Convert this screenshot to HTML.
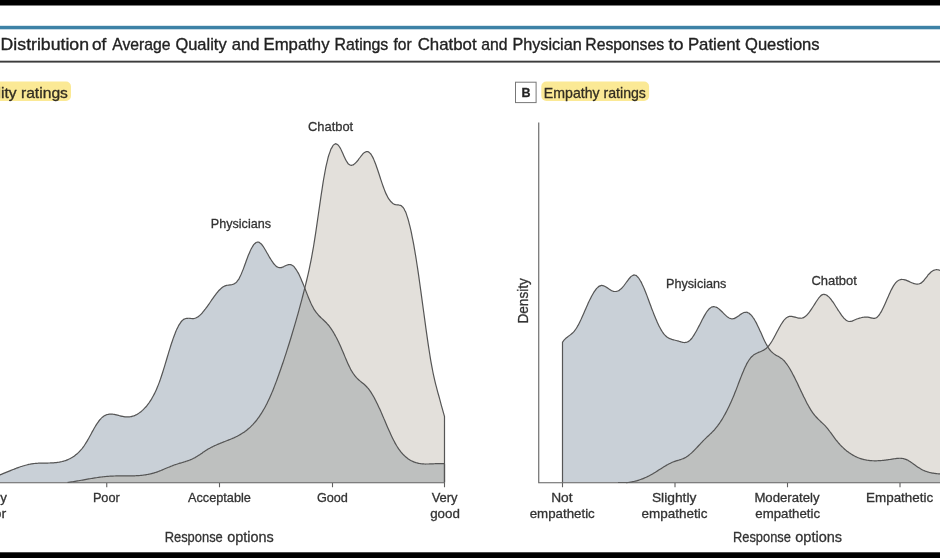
<!DOCTYPE html>
<html lang="en"><head><meta charset="utf-8"><title>Figure</title>
<style>html,body{margin:0;padding:0;background:#fff;overflow:hidden}body{width:940px;height:558px;position:relative}</style></head>
<body>
<svg width="940" height="558" viewBox="0 0 940 558" style="position:absolute;left:0;top:0;display:block;will-change:transform" font-family="'Liberation Sans', Arial, sans-serif" fill="#333">
<defs><clipPath id="cA"><path d="M-12.00 482.50 L-12.00 479.07 C-11.17 478.82 -11.17 478.85 -9.51 478.33 C-7.84 477.80 -8.67 478.07 -7.01 477.50 C-5.35 476.93 -6.18 477.23 -4.52 476.61 C-2.85 476.00 -3.68 476.31 -2.02 475.67 C-0.36 475.03 -1.19 475.35 0.47 474.68 C2.14 474.02 1.30 474.35 2.97 473.67 C4.63 472.99 3.80 473.33 5.46 472.64 C7.12 471.95 6.29 472.29 7.96 471.60 C9.62 470.91 8.79 471.25 10.45 470.57 C12.11 469.89 11.28 470.22 12.95 469.56 C14.61 468.90 13.78 469.22 15.44 468.59 C17.10 467.95 16.27 468.26 17.93 467.66 C19.60 467.05 18.77 467.34 20.43 466.78 C22.09 466.22 21.26 466.49 22.92 465.98 C24.59 465.47 23.76 465.71 25.42 465.26 C27.08 464.81 26.25 465.01 27.91 464.63 C29.58 464.25 28.74 464.42 30.41 464.11 C32.07 463.80 31.24 463.93 32.90 463.71 C34.56 463.48 33.73 463.58 35.40 463.43 C37.06 463.28 36.23 463.34 37.89 463.25 C39.55 463.16 38.72 463.20 40.39 463.15 C42.05 463.09 41.22 463.12 42.88 463.09 C44.54 463.06 43.71 463.08 45.37 463.06 C47.04 463.04 46.21 463.06 47.87 463.03 C49.53 463.00 48.70 463.02 50.36 462.97 C52.03 462.91 51.19 462.95 52.86 462.85 C54.52 462.75 53.69 462.82 55.35 462.66 C57.02 462.50 56.18 462.61 57.85 462.37 C59.51 462.13 58.68 462.28 60.34 461.94 C62.00 461.61 61.17 461.81 62.84 461.36 C64.50 460.91 63.67 461.18 65.33 460.60 C66.99 460.03 66.16 460.36 67.83 459.64 C69.49 458.91 68.66 459.32 70.32 458.44 C71.98 457.56 71.15 458.05 72.81 456.98 C74.48 455.92 73.65 456.52 75.31 455.24 C76.97 453.96 76.14 454.68 77.80 453.14 C79.47 451.59 78.63 452.46 80.30 450.61 C81.96 448.76 81.13 449.79 82.79 447.59 C84.46 445.39 83.62 446.59 85.29 444.02 C86.95 441.45 86.12 442.75 87.78 439.88 C89.44 437.02 88.61 438.42 90.28 435.42 C91.94 432.42 91.11 433.85 92.77 430.88 C94.43 427.91 93.60 429.28 95.27 426.51 C96.93 423.75 96.10 424.97 97.76 422.59 C99.42 420.20 98.59 421.22 100.25 419.35 C101.92 417.49 101.09 418.30 102.75 416.99 C104.41 415.67 103.58 416.24 105.24 415.41 C106.91 414.58 106.07 414.92 107.74 414.50 C109.40 414.08 108.57 414.24 110.23 414.15 C111.90 414.05 111.06 414.07 112.73 414.22 C114.39 414.37 113.56 414.29 115.22 414.60 C116.88 414.92 116.05 414.77 117.72 415.18 C119.38 415.58 118.55 415.41 120.21 415.82 C121.87 416.23 121.04 416.07 122.70 416.41 C124.37 416.74 123.54 416.64 125.20 416.83 C126.86 417.01 126.03 416.98 127.69 416.96 C129.36 416.93 128.53 417.01 130.19 416.75 C131.85 416.49 131.02 416.68 132.68 416.19 C134.35 415.69 133.51 416.01 135.18 415.26 C136.84 414.52 136.01 414.96 137.67 413.96 C139.34 412.96 138.50 413.53 140.17 412.26 C141.83 411.00 141.00 411.70 142.66 410.16 C144.32 408.62 143.49 409.47 145.16 407.64 C146.82 405.82 145.99 406.83 147.65 404.68 C149.31 402.53 148.48 403.72 150.14 401.19 C151.81 398.65 150.98 400.05 152.64 397.06 C154.30 394.07 153.47 395.72 155.13 392.22 C156.80 388.72 155.97 390.64 157.63 386.55 C159.29 382.47 158.46 384.67 160.12 379.98 C161.79 375.28 160.95 377.68 162.62 372.48 C164.28 367.28 163.45 369.85 165.11 364.37 C166.78 358.89 165.94 361.54 167.61 356.04 C169.27 350.54 168.44 353.14 170.10 347.86 C171.76 342.59 170.93 345.02 172.60 340.21 C174.26 335.41 173.43 337.60 175.09 333.44 C176.75 329.29 175.92 331.13 177.58 327.75 C179.25 324.37 178.42 325.79 180.08 323.31 C181.74 320.83 180.91 321.81 182.57 320.30 C184.24 318.78 183.41 319.43 185.07 318.76 C186.73 318.09 185.90 318.42 187.56 318.29 C189.23 318.17 188.39 318.31 190.06 318.39 C191.72 318.47 190.89 318.59 192.55 318.54 C194.21 318.48 193.38 318.72 195.05 318.23 C196.71 317.74 195.88 318.11 197.54 317.07 C199.20 316.04 198.37 316.64 200.04 315.12 C201.70 313.61 200.87 314.42 202.53 312.53 C204.19 310.64 203.36 311.62 205.02 309.46 C206.69 307.30 205.86 308.38 207.52 306.05 C209.18 303.73 208.35 304.87 210.01 302.48 C211.68 300.09 210.85 301.24 212.51 298.89 C214.17 296.54 213.34 297.64 215.00 295.43 C216.67 293.22 215.83 294.23 217.50 292.26 C219.16 290.28 218.33 291.15 219.99 289.51 C221.65 287.88 220.82 288.55 222.49 287.35 C224.15 286.15 223.32 286.62 224.98 285.92 C226.64 285.22 225.81 285.57 227.48 285.25 C229.14 284.92 228.31 285.20 229.97 284.94 C231.63 284.68 230.80 285.01 232.46 284.47 C234.13 283.92 233.30 284.48 234.96 283.30 C236.62 282.12 235.79 283.08 237.45 280.92 C239.12 278.76 238.29 280.10 239.95 276.83 C241.61 273.56 240.78 275.22 242.44 271.11 C244.11 267.00 243.27 268.96 244.94 264.50 C246.60 260.05 245.77 262.05 247.43 257.75 C249.09 253.46 248.26 255.28 249.93 251.62 C251.59 247.96 250.76 249.46 252.42 246.77 C254.08 244.08 253.25 245.08 254.92 243.55 C256.58 242.02 255.75 242.40 257.41 242.19 C259.07 241.97 258.24 241.82 259.90 242.90 C261.57 243.99 260.74 243.35 262.40 245.45 C264.06 247.55 263.23 246.52 264.89 249.21 C266.56 251.90 265.72 250.66 267.39 253.53 C269.05 256.40 268.22 255.09 269.88 257.82 C271.55 260.54 270.71 259.35 272.38 261.70 C274.04 264.04 273.21 263.10 274.87 264.85 C276.53 266.60 275.70 266.00 277.37 266.94 C279.03 267.89 278.20 267.60 279.86 267.69 C281.52 267.77 280.69 267.73 282.36 267.19 C284.02 266.65 283.19 266.81 284.85 266.07 C286.51 265.34 285.68 265.49 287.34 264.97 C289.01 264.46 288.18 264.40 289.84 264.53 C291.50 264.67 290.67 264.31 292.33 265.38 C294.00 266.46 293.16 265.73 294.83 267.77 C296.49 269.80 295.66 268.64 297.32 271.48 C298.99 274.33 298.15 272.80 299.82 276.30 C301.48 279.81 300.65 278.02 302.31 281.99 C303.97 285.97 303.14 284.03 304.81 288.24 C306.47 292.45 305.64 290.46 307.30 294.62 C308.96 298.77 308.13 296.88 309.80 300.70 C311.46 304.51 310.63 302.84 312.29 306.05 C313.95 309.27 313.12 307.79 314.78 310.35 C316.45 312.91 315.62 311.68 317.28 313.72 C318.94 315.76 318.11 314.75 319.77 316.46 C321.44 318.18 320.60 317.28 322.27 318.86 C323.93 320.44 323.10 319.56 324.76 321.21 C326.43 322.85 325.59 321.90 327.26 323.79 C328.92 325.68 328.09 324.63 329.75 326.87 C331.41 329.10 330.58 327.89 332.25 330.49 C333.91 333.08 333.08 331.70 334.74 334.65 C336.40 337.60 335.57 336.04 337.23 339.34 C338.90 342.64 338.07 340.92 339.73 344.55 C341.39 348.17 340.56 346.37 342.22 350.22 C343.89 354.08 343.06 352.22 344.72 356.12 C346.38 360.02 345.55 358.20 347.21 361.92 C348.88 365.65 348.04 363.96 349.71 367.30 C351.37 370.63 350.54 369.17 352.20 371.93 C353.87 374.68 353.03 373.42 354.70 375.56 C356.36 377.71 355.53 376.67 357.19 378.36 C358.85 380.05 358.02 379.19 359.69 380.63 C361.35 382.06 360.52 381.28 362.18 382.67 C363.84 384.06 363.01 383.25 364.67 384.79 C366.34 386.33 365.51 385.41 367.17 387.29 C368.83 389.18 368.00 388.12 369.66 390.44 C371.33 392.77 370.50 391.52 372.16 394.26 C373.82 396.99 372.99 395.55 374.65 398.65 C376.32 401.74 375.48 400.14 377.15 403.54 C378.81 406.94 377.98 405.20 379.64 408.85 C381.31 412.49 380.47 410.66 382.14 414.48 C383.80 418.30 382.97 416.42 384.63 420.31 C386.29 424.19 385.46 422.30 387.13 426.15 C388.79 430.00 387.96 428.15 389.62 431.85 C391.28 435.54 390.45 433.80 392.11 437.24 C393.78 440.67 392.95 439.08 394.61 442.15 C396.27 445.22 395.44 443.79 397.10 446.45 C398.77 449.11 397.94 447.87 399.60 450.13 C401.26 452.39 400.43 451.34 402.09 453.24 C403.76 455.15 402.92 454.26 404.59 455.84 C406.25 457.42 405.42 456.69 407.08 457.98 C408.74 459.27 407.91 458.67 409.58 459.71 C411.24 460.74 410.41 460.27 412.07 461.08 C413.73 461.90 412.90 461.53 414.57 462.14 C416.23 462.76 415.40 462.49 417.06 462.93 C418.72 463.37 417.89 463.18 419.55 463.47 C421.22 463.76 420.39 463.64 422.05 463.81 C423.71 463.98 422.88 463.91 424.54 463.98 C426.21 464.05 425.38 464.02 427.04 464.02 C428.70 464.02 427.87 464.02 429.53 463.97 C431.20 463.91 430.36 463.94 432.03 463.86 C433.69 463.78 432.86 463.81 434.52 463.73 C436.18 463.65 435.35 463.68 437.02 463.62 C438.68 463.57 437.85 463.57 439.51 463.57 C441.17 463.56 440.34 463.53 442.01 463.60 C443.67 463.67 443.67 463.71 444.50 463.76 L444.50 482.50 Z"/></clipPath><clipPath id="cB"><path d="M562.50 482.50 L562.50 342.09 C563.34 341.11 563.34 340.86 565.01 339.16 C566.68 337.46 565.84 338.35 567.51 336.99 C569.18 335.64 568.35 336.43 570.02 335.10 C571.69 333.76 570.86 334.63 572.53 332.98 C574.20 331.33 573.36 332.39 575.03 330.14 C576.70 327.90 575.87 329.14 577.54 326.24 C579.21 323.34 578.37 324.84 580.05 321.44 C581.72 318.04 580.88 319.74 582.55 316.04 C584.22 312.34 583.39 314.14 585.06 310.35 C586.73 306.56 585.89 308.35 587.57 304.67 C589.24 300.98 588.40 302.68 590.07 299.29 C591.74 295.91 590.91 297.43 592.58 294.51 C594.25 291.59 593.41 292.85 595.08 290.54 C596.76 288.23 595.92 289.15 597.59 287.59 C599.26 286.03 598.43 286.54 600.10 285.86 C601.77 285.18 600.93 285.35 602.60 285.54 C604.28 285.73 603.44 285.61 605.11 286.44 C606.78 287.27 605.95 286.92 607.62 288.02 C609.29 289.12 608.45 288.73 610.12 289.74 C611.80 290.74 610.96 290.46 612.63 291.04 C614.30 291.62 613.47 291.50 615.14 291.49 C616.81 291.48 615.97 291.64 617.64 291.00 C619.31 290.36 618.48 290.84 620.15 289.57 C621.82 288.30 620.99 289.05 622.66 287.20 C624.33 285.34 623.49 286.22 625.16 284.00 C626.83 281.79 626.00 282.72 627.67 280.55 C629.34 278.39 628.51 279.18 630.18 277.51 C631.85 275.83 631.01 276.28 632.68 275.53 C634.35 274.78 633.52 274.76 635.19 275.26 C636.86 275.76 636.03 275.27 637.70 277.03 C639.37 278.78 638.53 277.74 640.20 280.52 C641.87 283.31 641.04 281.81 642.71 285.38 C644.38 288.95 643.54 287.12 645.22 291.24 C646.89 295.35 646.05 293.31 647.72 297.72 C649.39 302.14 648.56 300.01 650.23 304.48 C651.90 308.95 651.06 306.82 652.74 311.14 C654.41 315.46 653.57 313.42 655.24 317.44 C656.91 321.46 656.08 319.60 657.75 323.20 C659.42 326.80 658.58 325.19 660.25 328.24 C661.93 331.30 661.09 329.98 662.76 332.38 C664.43 334.78 663.60 333.73 665.27 335.44 C666.94 337.15 666.10 336.37 667.77 337.50 C669.45 338.63 668.61 338.10 670.28 338.82 C671.95 339.53 671.12 339.17 672.79 339.65 C674.46 340.13 673.62 339.84 675.29 340.25 C676.97 340.66 676.13 340.41 677.80 340.89 C679.47 341.36 678.64 341.19 680.31 341.67 C681.98 342.14 681.14 342.05 682.81 342.31 C684.48 342.57 683.65 342.64 685.32 342.45 C686.99 342.26 686.16 342.61 687.83 341.73 C689.50 340.86 688.66 341.49 690.33 339.83 C692.00 338.17 691.17 339.10 692.84 336.76 C694.51 334.43 693.68 335.65 695.35 332.82 C697.02 329.99 696.18 331.41 697.85 328.27 C699.52 325.14 698.69 326.66 700.36 323.42 C702.03 320.19 701.19 321.68 702.87 318.57 C704.54 315.46 703.70 316.82 705.37 314.10 C707.04 311.39 706.21 312.48 707.88 310.42 C709.55 308.35 708.71 309.11 710.39 307.90 C712.06 306.70 711.22 307.12 712.89 306.80 C714.56 306.49 713.73 306.51 715.40 306.97 C717.07 307.42 716.23 307.10 717.91 308.18 C719.58 309.26 718.74 308.71 720.41 310.20 C722.08 311.69 721.25 311.01 722.92 312.66 C724.59 314.30 723.75 313.61 725.42 315.14 C727.10 316.66 726.26 316.10 727.93 317.23 C729.60 318.36 728.77 318.03 730.44 318.53 C732.11 319.03 731.27 318.95 732.94 318.74 C734.62 318.53 733.78 318.69 735.45 317.89 C737.12 317.08 736.29 317.44 737.96 316.33 C739.63 315.21 738.79 315.64 740.46 314.55 C742.14 313.45 741.30 313.79 742.97 313.04 C744.64 312.28 743.81 312.38 745.48 312.29 C747.15 312.19 746.31 312.01 747.98 312.76 C749.65 313.50 748.82 312.95 750.49 314.53 C752.16 316.11 751.33 315.17 753.00 317.49 C754.67 319.81 753.83 318.52 755.50 321.49 C757.17 324.46 756.34 322.94 758.01 326.39 C759.68 329.84 758.85 328.16 760.52 331.84 C762.19 335.51 761.35 333.79 763.02 337.41 C764.69 341.03 763.86 339.41 765.53 342.68 C767.20 345.96 766.36 344.57 768.04 347.23 C769.71 349.90 768.87 348.72 770.54 350.68 C772.21 352.64 771.38 351.71 773.05 353.11 C774.72 354.51 773.88 353.80 775.56 354.88 C777.23 355.97 776.39 355.35 778.06 356.36 C779.73 357.36 778.90 356.73 780.57 357.89 C782.24 359.05 781.40 358.29 783.08 359.84 C784.75 361.39 783.91 360.48 785.58 362.54 C787.25 364.59 786.42 363.48 788.09 366.00 C789.76 368.53 788.92 367.21 790.59 370.11 C792.27 373.01 791.43 371.52 793.10 374.71 C794.77 377.90 793.94 376.29 795.61 379.68 C797.28 383.07 796.44 381.38 798.11 384.88 C799.79 388.38 798.95 386.66 800.62 390.17 C802.29 393.69 801.46 391.98 803.13 395.42 C804.80 398.86 803.96 397.22 805.63 400.49 C807.31 403.77 806.47 402.23 808.14 405.25 C809.81 408.27 808.98 406.88 810.65 409.56 C812.32 412.23 811.48 411.00 813.15 413.28 C814.82 415.55 813.99 414.46 815.66 416.39 C817.33 418.31 816.50 417.36 818.17 419.06 C819.84 420.76 819.00 419.88 820.67 421.50 C822.34 423.11 821.51 422.24 823.18 423.89 C824.85 425.55 824.02 424.63 825.69 426.45 C827.36 428.28 826.52 427.29 828.19 429.37 C829.86 431.45 829.03 430.43 830.70 432.69 C832.37 434.95 831.53 433.89 833.21 436.17 C834.88 438.45 834.04 437.38 835.71 439.53 C837.38 441.67 836.55 440.65 838.22 442.60 C839.89 444.55 839.05 443.62 840.73 445.38 C842.40 447.15 841.56 446.31 843.23 447.89 C844.90 449.47 844.07 448.72 845.74 450.12 C847.41 451.53 846.57 450.86 848.25 452.10 C849.92 453.34 849.08 452.76 850.75 453.84 C852.42 454.93 851.59 454.42 853.26 455.35 C854.93 456.29 854.09 455.85 855.76 456.65 C857.44 457.44 856.60 457.08 858.27 457.74 C859.94 458.41 859.11 458.10 860.78 458.64 C862.45 459.19 861.61 458.94 863.28 459.37 C864.96 459.80 864.12 459.61 865.79 459.93 C867.46 460.25 866.63 460.11 868.30 460.34 C869.97 460.57 869.13 460.47 870.80 460.61 C872.47 460.75 871.64 460.70 873.31 460.76 C874.98 460.81 874.15 460.80 875.82 460.79 C877.49 460.78 876.65 460.79 878.32 460.72 C879.99 460.64 879.16 460.69 880.83 460.56 C882.50 460.43 881.67 460.51 883.34 460.33 C885.01 460.16 884.17 460.25 885.84 460.04 C887.51 459.83 886.68 459.94 888.35 459.70 C890.02 459.46 889.19 459.58 890.86 459.32 C892.53 459.06 891.69 459.18 893.36 458.92 C895.03 458.66 894.20 458.75 895.87 458.55 C897.54 458.34 896.70 458.39 898.38 458.30 C900.05 458.22 899.21 458.18 900.88 458.29 C902.55 458.40 901.72 458.25 903.39 458.62 C905.06 458.99 904.22 458.72 905.90 459.39 C907.57 460.06 906.73 459.69 908.40 460.62 C910.07 461.55 909.24 461.08 910.91 462.18 C912.58 463.29 911.74 462.75 913.42 463.94 C915.09 465.13 914.25 464.57 915.92 465.76 C917.59 466.95 916.76 466.41 918.43 467.50 C920.10 468.60 919.26 468.11 920.93 469.04 C922.61 469.97 921.77 469.54 923.44 470.30 C925.11 471.06 924.28 470.71 925.95 471.32 C927.62 471.92 926.78 471.64 928.45 472.12 C930.13 472.59 929.29 472.37 930.96 472.73 C932.63 473.10 931.80 472.93 933.47 473.20 C935.14 473.48 934.30 473.35 935.97 473.56 C937.64 473.77 936.81 473.67 938.48 473.83 C940.15 474.00 939.32 473.91 940.99 474.06 C942.66 474.21 941.82 474.13 943.49 474.27 C945.16 474.42 945.16 474.43 946.00 474.50 L946.00 482.50 Z"/></clipPath></defs>
<rect x="0" y="0" width="940" height="558" fill="#fff"/>
<rect x="0" y="0" width="940" height="5.5" fill="#000"/>
<rect x="0" y="552.3" width="940" height="6" fill="#000"/>
<rect x="0" y="25.8" width="940" height="3.5" fill="#3d82a6"/>
<rect x="0" y="60.7" width="940" height="1.9" fill="#3c3c3c"/>
<text y="50.40" font-size="17" fill="#222" stroke="#222" stroke-width="0.35"><tspan x="0.62" textLength="88.41" lengthAdjust="spacingAndGlyphs">Distribution</tspan> <tspan x="92.02" textLength="14.36" lengthAdjust="spacingAndGlyphs">of</tspan> <tspan x="112.19" textLength="58.40" lengthAdjust="spacingAndGlyphs">Average</tspan> <tspan x="175.43" textLength="51.20" lengthAdjust="spacingAndGlyphs">Quality</tspan> <tspan x="231.64" textLength="27.78" lengthAdjust="spacingAndGlyphs">and</tspan> <tspan x="263.51" textLength="66.05" lengthAdjust="spacingAndGlyphs">Empathy</tspan> <tspan x="334.49" textLength="53.81" lengthAdjust="spacingAndGlyphs">Ratings</tspan> <tspan x="393.41" textLength="18.16" lengthAdjust="spacingAndGlyphs">for</tspan> <tspan x="417.63" textLength="58.93" lengthAdjust="spacingAndGlyphs">Chatbot</tspan> <tspan x="481.16" textLength="26.24" lengthAdjust="spacingAndGlyphs">and</tspan> <tspan x="512.41" textLength="69.34" lengthAdjust="spacingAndGlyphs">Physician</tspan> <tspan x="585.28" textLength="78.84" lengthAdjust="spacingAndGlyphs">Responses</tspan> <tspan x="668.58" textLength="15.02" lengthAdjust="spacingAndGlyphs">to</tspan> <tspan x="687.89" textLength="52.36" lengthAdjust="spacingAndGlyphs">Patient</tspan> <tspan x="745.00" textLength="74.62" lengthAdjust="spacingAndGlyphs">Questions</tspan></text>
<rect x="-10" y="81.5" width="81" height="19.5" rx="5" fill="#fbe995"/>
<rect x="515.5" y="82.2" width="20.6" height="20.4" fill="#fff" stroke="#777" stroke-width="1"/>
<rect x="541.3" y="81.5" width="107.8" height="19.5" rx="5" fill="#fbe995"/>
<text x="67.90" y="97.50" font-size="14.2" text-anchor="end" textLength="100.00" lengthAdjust="spacingAndGlyphs" fill="#332e22" stroke="#332e22" stroke-width="0.3">Quality ratings</text>
<text x="526.10" y="97.20" font-size="12.5" text-anchor="middle" font-weight="bold" fill="#222" stroke="#333" stroke-width="0.3">B</text>
<path d="M-12.00 482.50 L-12.00 479.07 C-11.17 478.82 -11.17 478.85 -9.51 478.33 C-7.84 477.80 -8.67 478.07 -7.01 477.50 C-5.35 476.93 -6.18 477.23 -4.52 476.61 C-2.85 476.00 -3.68 476.31 -2.02 475.67 C-0.36 475.03 -1.19 475.35 0.47 474.68 C2.14 474.02 1.30 474.35 2.97 473.67 C4.63 472.99 3.80 473.33 5.46 472.64 C7.12 471.95 6.29 472.29 7.96 471.60 C9.62 470.91 8.79 471.25 10.45 470.57 C12.11 469.89 11.28 470.22 12.95 469.56 C14.61 468.90 13.78 469.22 15.44 468.59 C17.10 467.95 16.27 468.26 17.93 467.66 C19.60 467.05 18.77 467.34 20.43 466.78 C22.09 466.22 21.26 466.49 22.92 465.98 C24.59 465.47 23.76 465.71 25.42 465.26 C27.08 464.81 26.25 465.01 27.91 464.63 C29.58 464.25 28.74 464.42 30.41 464.11 C32.07 463.80 31.24 463.93 32.90 463.71 C34.56 463.48 33.73 463.58 35.40 463.43 C37.06 463.28 36.23 463.34 37.89 463.25 C39.55 463.16 38.72 463.20 40.39 463.15 C42.05 463.09 41.22 463.12 42.88 463.09 C44.54 463.06 43.71 463.08 45.37 463.06 C47.04 463.04 46.21 463.06 47.87 463.03 C49.53 463.00 48.70 463.02 50.36 462.97 C52.03 462.91 51.19 462.95 52.86 462.85 C54.52 462.75 53.69 462.82 55.35 462.66 C57.02 462.50 56.18 462.61 57.85 462.37 C59.51 462.13 58.68 462.28 60.34 461.94 C62.00 461.61 61.17 461.81 62.84 461.36 C64.50 460.91 63.67 461.18 65.33 460.60 C66.99 460.03 66.16 460.36 67.83 459.64 C69.49 458.91 68.66 459.32 70.32 458.44 C71.98 457.56 71.15 458.05 72.81 456.98 C74.48 455.92 73.65 456.52 75.31 455.24 C76.97 453.96 76.14 454.68 77.80 453.14 C79.47 451.59 78.63 452.46 80.30 450.61 C81.96 448.76 81.13 449.79 82.79 447.59 C84.46 445.39 83.62 446.59 85.29 444.02 C86.95 441.45 86.12 442.75 87.78 439.88 C89.44 437.02 88.61 438.42 90.28 435.42 C91.94 432.42 91.11 433.85 92.77 430.88 C94.43 427.91 93.60 429.28 95.27 426.51 C96.93 423.75 96.10 424.97 97.76 422.59 C99.42 420.20 98.59 421.22 100.25 419.35 C101.92 417.49 101.09 418.30 102.75 416.99 C104.41 415.67 103.58 416.24 105.24 415.41 C106.91 414.58 106.07 414.92 107.74 414.50 C109.40 414.08 108.57 414.24 110.23 414.15 C111.90 414.05 111.06 414.07 112.73 414.22 C114.39 414.37 113.56 414.29 115.22 414.60 C116.88 414.92 116.05 414.77 117.72 415.18 C119.38 415.58 118.55 415.41 120.21 415.82 C121.87 416.23 121.04 416.07 122.70 416.41 C124.37 416.74 123.54 416.64 125.20 416.83 C126.86 417.01 126.03 416.98 127.69 416.96 C129.36 416.93 128.53 417.01 130.19 416.75 C131.85 416.49 131.02 416.68 132.68 416.19 C134.35 415.69 133.51 416.01 135.18 415.26 C136.84 414.52 136.01 414.96 137.67 413.96 C139.34 412.96 138.50 413.53 140.17 412.26 C141.83 411.00 141.00 411.70 142.66 410.16 C144.32 408.62 143.49 409.47 145.16 407.64 C146.82 405.82 145.99 406.83 147.65 404.68 C149.31 402.53 148.48 403.72 150.14 401.19 C151.81 398.65 150.98 400.05 152.64 397.06 C154.30 394.07 153.47 395.72 155.13 392.22 C156.80 388.72 155.97 390.64 157.63 386.55 C159.29 382.47 158.46 384.67 160.12 379.98 C161.79 375.28 160.95 377.68 162.62 372.48 C164.28 367.28 163.45 369.85 165.11 364.37 C166.78 358.89 165.94 361.54 167.61 356.04 C169.27 350.54 168.44 353.14 170.10 347.86 C171.76 342.59 170.93 345.02 172.60 340.21 C174.26 335.41 173.43 337.60 175.09 333.44 C176.75 329.29 175.92 331.13 177.58 327.75 C179.25 324.37 178.42 325.79 180.08 323.31 C181.74 320.83 180.91 321.81 182.57 320.30 C184.24 318.78 183.41 319.43 185.07 318.76 C186.73 318.09 185.90 318.42 187.56 318.29 C189.23 318.17 188.39 318.31 190.06 318.39 C191.72 318.47 190.89 318.59 192.55 318.54 C194.21 318.48 193.38 318.72 195.05 318.23 C196.71 317.74 195.88 318.11 197.54 317.07 C199.20 316.04 198.37 316.64 200.04 315.12 C201.70 313.61 200.87 314.42 202.53 312.53 C204.19 310.64 203.36 311.62 205.02 309.46 C206.69 307.30 205.86 308.38 207.52 306.05 C209.18 303.73 208.35 304.87 210.01 302.48 C211.68 300.09 210.85 301.24 212.51 298.89 C214.17 296.54 213.34 297.64 215.00 295.43 C216.67 293.22 215.83 294.23 217.50 292.26 C219.16 290.28 218.33 291.15 219.99 289.51 C221.65 287.88 220.82 288.55 222.49 287.35 C224.15 286.15 223.32 286.62 224.98 285.92 C226.64 285.22 225.81 285.57 227.48 285.25 C229.14 284.92 228.31 285.20 229.97 284.94 C231.63 284.68 230.80 285.01 232.46 284.47 C234.13 283.92 233.30 284.48 234.96 283.30 C236.62 282.12 235.79 283.08 237.45 280.92 C239.12 278.76 238.29 280.10 239.95 276.83 C241.61 273.56 240.78 275.22 242.44 271.11 C244.11 267.00 243.27 268.96 244.94 264.50 C246.60 260.05 245.77 262.05 247.43 257.75 C249.09 253.46 248.26 255.28 249.93 251.62 C251.59 247.96 250.76 249.46 252.42 246.77 C254.08 244.08 253.25 245.08 254.92 243.55 C256.58 242.02 255.75 242.40 257.41 242.19 C259.07 241.97 258.24 241.82 259.90 242.90 C261.57 243.99 260.74 243.35 262.40 245.45 C264.06 247.55 263.23 246.52 264.89 249.21 C266.56 251.90 265.72 250.66 267.39 253.53 C269.05 256.40 268.22 255.09 269.88 257.82 C271.55 260.54 270.71 259.35 272.38 261.70 C274.04 264.04 273.21 263.10 274.87 264.85 C276.53 266.60 275.70 266.00 277.37 266.94 C279.03 267.89 278.20 267.60 279.86 267.69 C281.52 267.77 280.69 267.73 282.36 267.19 C284.02 266.65 283.19 266.81 284.85 266.07 C286.51 265.34 285.68 265.49 287.34 264.97 C289.01 264.46 288.18 264.40 289.84 264.53 C291.50 264.67 290.67 264.31 292.33 265.38 C294.00 266.46 293.16 265.73 294.83 267.77 C296.49 269.80 295.66 268.64 297.32 271.48 C298.99 274.33 298.15 272.80 299.82 276.30 C301.48 279.81 300.65 278.02 302.31 281.99 C303.97 285.97 303.14 284.03 304.81 288.24 C306.47 292.45 305.64 290.46 307.30 294.62 C308.96 298.77 308.13 296.88 309.80 300.70 C311.46 304.51 310.63 302.84 312.29 306.05 C313.95 309.27 313.12 307.79 314.78 310.35 C316.45 312.91 315.62 311.68 317.28 313.72 C318.94 315.76 318.11 314.75 319.77 316.46 C321.44 318.18 320.60 317.28 322.27 318.86 C323.93 320.44 323.10 319.56 324.76 321.21 C326.43 322.85 325.59 321.90 327.26 323.79 C328.92 325.68 328.09 324.63 329.75 326.87 C331.41 329.10 330.58 327.89 332.25 330.49 C333.91 333.08 333.08 331.70 334.74 334.65 C336.40 337.60 335.57 336.04 337.23 339.34 C338.90 342.64 338.07 340.92 339.73 344.55 C341.39 348.17 340.56 346.37 342.22 350.22 C343.89 354.08 343.06 352.22 344.72 356.12 C346.38 360.02 345.55 358.20 347.21 361.92 C348.88 365.65 348.04 363.96 349.71 367.30 C351.37 370.63 350.54 369.17 352.20 371.93 C353.87 374.68 353.03 373.42 354.70 375.56 C356.36 377.71 355.53 376.67 357.19 378.36 C358.85 380.05 358.02 379.19 359.69 380.63 C361.35 382.06 360.52 381.28 362.18 382.67 C363.84 384.06 363.01 383.25 364.67 384.79 C366.34 386.33 365.51 385.41 367.17 387.29 C368.83 389.18 368.00 388.12 369.66 390.44 C371.33 392.77 370.50 391.52 372.16 394.26 C373.82 396.99 372.99 395.55 374.65 398.65 C376.32 401.74 375.48 400.14 377.15 403.54 C378.81 406.94 377.98 405.20 379.64 408.85 C381.31 412.49 380.47 410.66 382.14 414.48 C383.80 418.30 382.97 416.42 384.63 420.31 C386.29 424.19 385.46 422.30 387.13 426.15 C388.79 430.00 387.96 428.15 389.62 431.85 C391.28 435.54 390.45 433.80 392.11 437.24 C393.78 440.67 392.95 439.08 394.61 442.15 C396.27 445.22 395.44 443.79 397.10 446.45 C398.77 449.11 397.94 447.87 399.60 450.13 C401.26 452.39 400.43 451.34 402.09 453.24 C403.76 455.15 402.92 454.26 404.59 455.84 C406.25 457.42 405.42 456.69 407.08 457.98 C408.74 459.27 407.91 458.67 409.58 459.71 C411.24 460.74 410.41 460.27 412.07 461.08 C413.73 461.90 412.90 461.53 414.57 462.14 C416.23 462.76 415.40 462.49 417.06 462.93 C418.72 463.37 417.89 463.18 419.55 463.47 C421.22 463.76 420.39 463.64 422.05 463.81 C423.71 463.98 422.88 463.91 424.54 463.98 C426.21 464.05 425.38 464.02 427.04 464.02 C428.70 464.02 427.87 464.02 429.53 463.97 C431.20 463.91 430.36 463.94 432.03 463.86 C433.69 463.78 432.86 463.81 434.52 463.73 C436.18 463.65 435.35 463.68 437.02 463.62 C438.68 463.57 437.85 463.57 439.51 463.57 C441.17 463.56 440.34 463.53 442.01 463.60 C443.67 463.67 443.67 463.71 444.50 463.76 L444.50 482.50 Z" fill="#c9d0d7"/>
<path d="M67.50 482.50 L67.50 482.50 C68.33 482.39 68.33 482.40 70.00 482.16 C71.66 481.92 70.83 482.04 72.49 481.78 C74.16 481.51 73.33 481.65 74.99 481.37 C76.65 481.09 75.82 481.23 77.49 480.94 C79.15 480.65 78.32 480.80 79.98 480.50 C81.65 480.21 80.82 480.36 82.48 480.06 C84.14 479.76 83.31 479.91 84.98 479.61 C86.64 479.32 85.81 479.46 87.47 479.17 C89.14 478.88 88.31 479.02 89.97 478.73 C91.63 478.45 90.80 478.59 92.47 478.31 C94.13 478.04 93.30 478.17 94.96 477.91 C96.63 477.65 95.80 477.77 97.46 477.53 C99.12 477.29 98.29 477.41 99.96 477.18 C101.62 476.96 100.79 477.07 102.45 476.87 C104.12 476.68 103.29 476.76 104.95 476.60 C106.61 476.43 105.78 476.50 107.45 476.37 C109.11 476.23 108.28 476.29 109.94 476.19 C111.61 476.09 110.78 476.13 112.44 476.07 C114.10 476.00 113.27 476.03 114.94 475.99 C116.60 475.95 115.77 475.96 117.43 475.94 C119.10 475.92 118.27 475.93 119.93 475.93 C121.59 475.92 120.76 475.92 122.43 475.92 C124.09 475.92 123.26 475.93 124.92 475.93 C126.59 475.93 125.76 475.93 127.42 475.92 C129.08 475.92 128.25 475.93 129.92 475.91 C131.58 475.89 130.75 475.90 132.41 475.86 C134.08 475.82 133.25 475.85 134.91 475.79 C136.58 475.72 135.74 475.76 137.41 475.66 C139.07 475.56 138.24 475.62 139.90 475.48 C141.57 475.34 140.74 475.43 142.40 475.24 C144.07 475.05 143.23 475.16 144.90 474.92 C146.56 474.68 145.73 474.81 147.39 474.51 C149.06 474.21 148.23 474.38 149.89 474.01 C151.56 473.64 150.72 473.84 152.39 473.40 C154.05 472.95 153.22 473.20 154.88 472.67 C156.55 472.15 155.72 472.42 157.38 471.83 C159.05 471.23 158.21 471.53 159.88 470.88 C161.54 470.23 160.71 470.56 162.37 469.87 C164.04 469.18 163.21 469.52 164.87 468.81 C166.54 468.10 165.70 468.45 167.37 467.74 C169.03 467.04 168.20 467.38 169.86 466.70 C171.53 466.01 170.70 466.34 172.36 465.70 C174.03 465.05 173.19 465.36 174.86 464.77 C176.52 464.19 175.69 464.47 177.35 463.95 C179.02 463.42 178.19 463.69 179.85 463.19 C181.52 462.69 180.68 462.95 182.35 462.46 C184.01 461.96 183.18 462.23 184.84 461.71 C186.51 461.19 185.68 461.47 187.34 460.90 C189.01 460.33 188.17 460.64 189.84 459.99 C191.50 459.33 190.67 459.70 192.33 458.93 C194.00 458.17 193.17 458.59 194.83 457.69 C196.50 456.79 195.66 457.26 197.33 456.24 C198.99 455.22 198.16 455.73 199.82 454.63 C201.49 453.52 200.66 454.06 202.32 452.93 C203.99 451.81 203.15 452.34 204.82 451.24 C206.48 450.14 205.65 450.66 207.31 449.63 C208.98 448.61 208.15 449.09 209.81 448.16 C211.48 447.23 210.64 447.68 212.31 446.84 C213.97 446.00 213.14 446.41 214.80 445.63 C216.47 444.86 215.64 445.24 217.30 444.52 C218.97 443.80 218.13 444.16 219.80 443.48 C221.46 442.80 220.63 443.14 222.29 442.49 C223.96 441.83 223.13 442.16 224.79 441.52 C226.46 440.87 225.62 441.20 227.29 440.54 C228.95 439.89 228.12 440.23 229.78 439.55 C231.45 438.87 230.62 439.22 232.28 438.50 C233.95 437.78 233.11 438.16 234.78 437.38 C236.44 436.61 235.61 437.02 237.27 436.17 C238.94 435.32 238.11 435.77 239.77 434.83 C241.44 433.88 240.60 434.39 242.27 433.33 C243.93 432.27 243.10 432.84 244.76 431.64 C246.43 430.44 245.60 431.09 247.26 429.74 C248.93 428.38 248.09 429.11 249.76 427.58 C251.42 426.05 250.59 426.87 252.25 425.14 C253.92 423.42 253.09 424.34 254.75 422.40 C256.42 420.45 255.58 421.49 257.25 419.31 C258.91 417.12 258.08 418.29 259.75 415.84 C261.41 413.40 260.58 414.70 262.24 411.98 C263.91 409.25 263.07 410.70 264.74 407.68 C266.40 404.65 265.57 406.25 267.24 402.91 C268.90 399.57 268.07 401.33 269.73 397.65 C271.40 393.97 270.56 395.88 272.23 391.87 C273.89 387.86 273.06 389.92 274.73 385.63 C276.39 381.33 275.56 383.52 277.22 378.99 C278.89 374.46 278.05 376.76 279.72 372.03 C281.38 367.30 280.55 369.70 282.22 364.81 C283.88 359.92 283.05 362.40 284.71 357.35 C286.38 352.30 285.54 354.86 287.21 349.65 C288.87 344.44 288.04 347.08 289.71 341.71 C291.37 336.34 290.54 339.07 292.20 333.54 C293.87 328.01 293.03 330.83 294.70 325.13 C296.36 319.43 295.53 322.34 297.20 316.45 C298.86 310.56 298.03 313.57 299.69 307.45 C301.36 301.33 300.52 304.47 302.19 298.09 C303.85 291.72 303.02 295.01 304.69 288.33 C306.35 281.65 305.52 285.22 307.18 278.06 C308.85 270.90 308.01 274.82 309.68 266.84 C311.34 258.86 310.51 263.29 312.18 254.12 C313.84 244.95 313.01 249.82 314.67 239.34 C316.34 228.86 315.50 234.02 317.17 222.68 C318.83 211.34 318.00 216.70 319.67 205.32 C321.33 193.95 320.50 199.12 322.16 188.54 C323.83 177.97 322.99 182.58 324.66 173.60 C326.32 164.63 325.49 168.55 327.16 161.62 C328.82 154.70 327.99 157.67 329.65 152.82 C331.32 147.98 330.48 149.93 332.15 147.09 C333.81 144.25 332.98 145.22 334.65 144.31 C336.31 143.41 335.48 143.43 337.14 144.37 C338.81 145.32 337.97 144.61 339.64 147.15 C341.30 149.70 340.47 148.55 342.14 152.00 C343.80 155.45 342.97 154.11 344.63 157.49 C346.30 160.88 345.46 159.75 347.13 162.15 C348.79 164.56 347.96 163.72 349.63 164.70 C351.29 165.68 350.46 165.40 352.12 165.10 C353.79 164.80 352.95 165.08 354.62 163.80 C356.28 162.51 355.45 163.17 357.12 161.24 C358.78 159.31 357.95 160.14 359.61 158.00 C361.28 155.87 360.44 156.67 362.11 154.84 C363.77 153.00 362.94 153.54 364.61 152.50 C366.27 151.45 365.44 151.59 367.10 151.70 C368.77 151.81 367.93 151.35 369.60 152.83 C371.26 154.30 370.43 153.24 372.10 156.13 C373.76 159.02 372.93 157.45 374.59 161.50 C376.26 165.55 375.42 163.52 377.09 168.29 C378.75 173.05 377.92 170.78 379.59 175.80 C381.25 180.81 380.42 178.53 382.08 183.33 C383.75 188.13 382.92 186.05 384.58 190.20 C386.24 194.34 385.41 192.53 387.08 195.77 C388.74 199.02 387.91 197.60 389.57 199.93 C391.24 202.26 390.41 201.29 392.07 202.76 C393.73 204.24 392.90 203.64 394.57 204.35 C396.23 205.05 395.40 204.59 397.06 204.88 C398.73 205.16 397.90 204.67 399.56 205.21 C401.22 205.76 400.39 204.94 402.06 206.51 C403.72 208.08 402.89 206.73 404.55 209.92 C406.22 213.12 405.39 211.11 407.05 216.09 C408.71 221.08 407.88 218.22 409.55 224.88 C411.21 231.53 410.38 227.88 412.04 236.06 C413.71 244.24 412.88 239.86 414.54 249.42 C416.20 258.97 415.37 253.96 417.04 264.73 C418.70 275.50 417.87 270.04 419.53 281.74 C421.20 293.43 420.37 287.66 422.03 299.81 C423.69 311.96 422.86 306.09 424.53 318.18 C426.19 330.27 425.36 324.56 427.02 336.07 C428.69 347.58 427.86 342.29 429.52 352.72 C431.18 363.14 430.35 358.46 432.02 367.34 C433.68 376.21 432.85 372.00 434.51 379.33 C436.18 386.66 435.35 382.94 437.01 389.32 C438.67 395.69 437.84 392.33 439.51 398.45 C441.17 404.57 440.34 401.67 442.00 407.68 C443.67 413.69 443.67 413.54 444.50 416.47 L444.50 482.50 Z" fill="#e3e0db"/>
<path d="M67.50 482.50 L67.50 482.50 C68.33 482.39 68.33 482.40 70.00 482.16 C71.66 481.92 70.83 482.04 72.49 481.78 C74.16 481.51 73.33 481.65 74.99 481.37 C76.65 481.09 75.82 481.23 77.49 480.94 C79.15 480.65 78.32 480.80 79.98 480.50 C81.65 480.21 80.82 480.36 82.48 480.06 C84.14 479.76 83.31 479.91 84.98 479.61 C86.64 479.32 85.81 479.46 87.47 479.17 C89.14 478.88 88.31 479.02 89.97 478.73 C91.63 478.45 90.80 478.59 92.47 478.31 C94.13 478.04 93.30 478.17 94.96 477.91 C96.63 477.65 95.80 477.77 97.46 477.53 C99.12 477.29 98.29 477.41 99.96 477.18 C101.62 476.96 100.79 477.07 102.45 476.87 C104.12 476.68 103.29 476.76 104.95 476.60 C106.61 476.43 105.78 476.50 107.45 476.37 C109.11 476.23 108.28 476.29 109.94 476.19 C111.61 476.09 110.78 476.13 112.44 476.07 C114.10 476.00 113.27 476.03 114.94 475.99 C116.60 475.95 115.77 475.96 117.43 475.94 C119.10 475.92 118.27 475.93 119.93 475.93 C121.59 475.92 120.76 475.92 122.43 475.92 C124.09 475.92 123.26 475.93 124.92 475.93 C126.59 475.93 125.76 475.93 127.42 475.92 C129.08 475.92 128.25 475.93 129.92 475.91 C131.58 475.89 130.75 475.90 132.41 475.86 C134.08 475.82 133.25 475.85 134.91 475.79 C136.58 475.72 135.74 475.76 137.41 475.66 C139.07 475.56 138.24 475.62 139.90 475.48 C141.57 475.34 140.74 475.43 142.40 475.24 C144.07 475.05 143.23 475.16 144.90 474.92 C146.56 474.68 145.73 474.81 147.39 474.51 C149.06 474.21 148.23 474.38 149.89 474.01 C151.56 473.64 150.72 473.84 152.39 473.40 C154.05 472.95 153.22 473.20 154.88 472.67 C156.55 472.15 155.72 472.42 157.38 471.83 C159.05 471.23 158.21 471.53 159.88 470.88 C161.54 470.23 160.71 470.56 162.37 469.87 C164.04 469.18 163.21 469.52 164.87 468.81 C166.54 468.10 165.70 468.45 167.37 467.74 C169.03 467.04 168.20 467.38 169.86 466.70 C171.53 466.01 170.70 466.34 172.36 465.70 C174.03 465.05 173.19 465.36 174.86 464.77 C176.52 464.19 175.69 464.47 177.35 463.95 C179.02 463.42 178.19 463.69 179.85 463.19 C181.52 462.69 180.68 462.95 182.35 462.46 C184.01 461.96 183.18 462.23 184.84 461.71 C186.51 461.19 185.68 461.47 187.34 460.90 C189.01 460.33 188.17 460.64 189.84 459.99 C191.50 459.33 190.67 459.70 192.33 458.93 C194.00 458.17 193.17 458.59 194.83 457.69 C196.50 456.79 195.66 457.26 197.33 456.24 C198.99 455.22 198.16 455.73 199.82 454.63 C201.49 453.52 200.66 454.06 202.32 452.93 C203.99 451.81 203.15 452.34 204.82 451.24 C206.48 450.14 205.65 450.66 207.31 449.63 C208.98 448.61 208.15 449.09 209.81 448.16 C211.48 447.23 210.64 447.68 212.31 446.84 C213.97 446.00 213.14 446.41 214.80 445.63 C216.47 444.86 215.64 445.24 217.30 444.52 C218.97 443.80 218.13 444.16 219.80 443.48 C221.46 442.80 220.63 443.14 222.29 442.49 C223.96 441.83 223.13 442.16 224.79 441.52 C226.46 440.87 225.62 441.20 227.29 440.54 C228.95 439.89 228.12 440.23 229.78 439.55 C231.45 438.87 230.62 439.22 232.28 438.50 C233.95 437.78 233.11 438.16 234.78 437.38 C236.44 436.61 235.61 437.02 237.27 436.17 C238.94 435.32 238.11 435.77 239.77 434.83 C241.44 433.88 240.60 434.39 242.27 433.33 C243.93 432.27 243.10 432.84 244.76 431.64 C246.43 430.44 245.60 431.09 247.26 429.74 C248.93 428.38 248.09 429.11 249.76 427.58 C251.42 426.05 250.59 426.87 252.25 425.14 C253.92 423.42 253.09 424.34 254.75 422.40 C256.42 420.45 255.58 421.49 257.25 419.31 C258.91 417.12 258.08 418.29 259.75 415.84 C261.41 413.40 260.58 414.70 262.24 411.98 C263.91 409.25 263.07 410.70 264.74 407.68 C266.40 404.65 265.57 406.25 267.24 402.91 C268.90 399.57 268.07 401.33 269.73 397.65 C271.40 393.97 270.56 395.88 272.23 391.87 C273.89 387.86 273.06 389.92 274.73 385.63 C276.39 381.33 275.56 383.52 277.22 378.99 C278.89 374.46 278.05 376.76 279.72 372.03 C281.38 367.30 280.55 369.70 282.22 364.81 C283.88 359.92 283.05 362.40 284.71 357.35 C286.38 352.30 285.54 354.86 287.21 349.65 C288.87 344.44 288.04 347.08 289.71 341.71 C291.37 336.34 290.54 339.07 292.20 333.54 C293.87 328.01 293.03 330.83 294.70 325.13 C296.36 319.43 295.53 322.34 297.20 316.45 C298.86 310.56 298.03 313.57 299.69 307.45 C301.36 301.33 300.52 304.47 302.19 298.09 C303.85 291.72 303.02 295.01 304.69 288.33 C306.35 281.65 305.52 285.22 307.18 278.06 C308.85 270.90 308.01 274.82 309.68 266.84 C311.34 258.86 310.51 263.29 312.18 254.12 C313.84 244.95 313.01 249.82 314.67 239.34 C316.34 228.86 315.50 234.02 317.17 222.68 C318.83 211.34 318.00 216.70 319.67 205.32 C321.33 193.95 320.50 199.12 322.16 188.54 C323.83 177.97 322.99 182.58 324.66 173.60 C326.32 164.63 325.49 168.55 327.16 161.62 C328.82 154.70 327.99 157.67 329.65 152.82 C331.32 147.98 330.48 149.93 332.15 147.09 C333.81 144.25 332.98 145.22 334.65 144.31 C336.31 143.41 335.48 143.43 337.14 144.37 C338.81 145.32 337.97 144.61 339.64 147.15 C341.30 149.70 340.47 148.55 342.14 152.00 C343.80 155.45 342.97 154.11 344.63 157.49 C346.30 160.88 345.46 159.75 347.13 162.15 C348.79 164.56 347.96 163.72 349.63 164.70 C351.29 165.68 350.46 165.40 352.12 165.10 C353.79 164.80 352.95 165.08 354.62 163.80 C356.28 162.51 355.45 163.17 357.12 161.24 C358.78 159.31 357.95 160.14 359.61 158.00 C361.28 155.87 360.44 156.67 362.11 154.84 C363.77 153.00 362.94 153.54 364.61 152.50 C366.27 151.45 365.44 151.59 367.10 151.70 C368.77 151.81 367.93 151.35 369.60 152.83 C371.26 154.30 370.43 153.24 372.10 156.13 C373.76 159.02 372.93 157.45 374.59 161.50 C376.26 165.55 375.42 163.52 377.09 168.29 C378.75 173.05 377.92 170.78 379.59 175.80 C381.25 180.81 380.42 178.53 382.08 183.33 C383.75 188.13 382.92 186.05 384.58 190.20 C386.24 194.34 385.41 192.53 387.08 195.77 C388.74 199.02 387.91 197.60 389.57 199.93 C391.24 202.26 390.41 201.29 392.07 202.76 C393.73 204.24 392.90 203.64 394.57 204.35 C396.23 205.05 395.40 204.59 397.06 204.88 C398.73 205.16 397.90 204.67 399.56 205.21 C401.22 205.76 400.39 204.94 402.06 206.51 C403.72 208.08 402.89 206.73 404.55 209.92 C406.22 213.12 405.39 211.11 407.05 216.09 C408.71 221.08 407.88 218.22 409.55 224.88 C411.21 231.53 410.38 227.88 412.04 236.06 C413.71 244.24 412.88 239.86 414.54 249.42 C416.20 258.97 415.37 253.96 417.04 264.73 C418.70 275.50 417.87 270.04 419.53 281.74 C421.20 293.43 420.37 287.66 422.03 299.81 C423.69 311.96 422.86 306.09 424.53 318.18 C426.19 330.27 425.36 324.56 427.02 336.07 C428.69 347.58 427.86 342.29 429.52 352.72 C431.18 363.14 430.35 358.46 432.02 367.34 C433.68 376.21 432.85 372.00 434.51 379.33 C436.18 386.66 435.35 382.94 437.01 389.32 C438.67 395.69 437.84 392.33 439.51 398.45 C441.17 404.57 440.34 401.67 442.00 407.68 C443.67 413.69 443.67 413.54 444.50 416.47 L444.50 482.50 Z" fill="#bec0bf" clip-path="url(#cA)"/>
<path d="M-12.00 479.07 C-11.17 478.82 -11.17 478.85 -9.51 478.33 C-7.84 477.80 -8.67 478.07 -7.01 477.50 C-5.35 476.93 -6.18 477.23 -4.52 476.61 C-2.85 476.00 -3.68 476.31 -2.02 475.67 C-0.36 475.03 -1.19 475.35 0.47 474.68 C2.14 474.02 1.30 474.35 2.97 473.67 C4.63 472.99 3.80 473.33 5.46 472.64 C7.12 471.95 6.29 472.29 7.96 471.60 C9.62 470.91 8.79 471.25 10.45 470.57 C12.11 469.89 11.28 470.22 12.95 469.56 C14.61 468.90 13.78 469.22 15.44 468.59 C17.10 467.95 16.27 468.26 17.93 467.66 C19.60 467.05 18.77 467.34 20.43 466.78 C22.09 466.22 21.26 466.49 22.92 465.98 C24.59 465.47 23.76 465.71 25.42 465.26 C27.08 464.81 26.25 465.01 27.91 464.63 C29.58 464.25 28.74 464.42 30.41 464.11 C32.07 463.80 31.24 463.93 32.90 463.71 C34.56 463.48 33.73 463.58 35.40 463.43 C37.06 463.28 36.23 463.34 37.89 463.25 C39.55 463.16 38.72 463.20 40.39 463.15 C42.05 463.09 41.22 463.12 42.88 463.09 C44.54 463.06 43.71 463.08 45.37 463.06 C47.04 463.04 46.21 463.06 47.87 463.03 C49.53 463.00 48.70 463.02 50.36 462.97 C52.03 462.91 51.19 462.95 52.86 462.85 C54.52 462.75 53.69 462.82 55.35 462.66 C57.02 462.50 56.18 462.61 57.85 462.37 C59.51 462.13 58.68 462.28 60.34 461.94 C62.00 461.61 61.17 461.81 62.84 461.36 C64.50 460.91 63.67 461.18 65.33 460.60 C66.99 460.03 66.16 460.36 67.83 459.64 C69.49 458.91 68.66 459.32 70.32 458.44 C71.98 457.56 71.15 458.05 72.81 456.98 C74.48 455.92 73.65 456.52 75.31 455.24 C76.97 453.96 76.14 454.68 77.80 453.14 C79.47 451.59 78.63 452.46 80.30 450.61 C81.96 448.76 81.13 449.79 82.79 447.59 C84.46 445.39 83.62 446.59 85.29 444.02 C86.95 441.45 86.12 442.75 87.78 439.88 C89.44 437.02 88.61 438.42 90.28 435.42 C91.94 432.42 91.11 433.85 92.77 430.88 C94.43 427.91 93.60 429.28 95.27 426.51 C96.93 423.75 96.10 424.97 97.76 422.59 C99.42 420.20 98.59 421.22 100.25 419.35 C101.92 417.49 101.09 418.30 102.75 416.99 C104.41 415.67 103.58 416.24 105.24 415.41 C106.91 414.58 106.07 414.92 107.74 414.50 C109.40 414.08 108.57 414.24 110.23 414.15 C111.90 414.05 111.06 414.07 112.73 414.22 C114.39 414.37 113.56 414.29 115.22 414.60 C116.88 414.92 116.05 414.77 117.72 415.18 C119.38 415.58 118.55 415.41 120.21 415.82 C121.87 416.23 121.04 416.07 122.70 416.41 C124.37 416.74 123.54 416.64 125.20 416.83 C126.86 417.01 126.03 416.98 127.69 416.96 C129.36 416.93 128.53 417.01 130.19 416.75 C131.85 416.49 131.02 416.68 132.68 416.19 C134.35 415.69 133.51 416.01 135.18 415.26 C136.84 414.52 136.01 414.96 137.67 413.96 C139.34 412.96 138.50 413.53 140.17 412.26 C141.83 411.00 141.00 411.70 142.66 410.16 C144.32 408.62 143.49 409.47 145.16 407.64 C146.82 405.82 145.99 406.83 147.65 404.68 C149.31 402.53 148.48 403.72 150.14 401.19 C151.81 398.65 150.98 400.05 152.64 397.06 C154.30 394.07 153.47 395.72 155.13 392.22 C156.80 388.72 155.97 390.64 157.63 386.55 C159.29 382.47 158.46 384.67 160.12 379.98 C161.79 375.28 160.95 377.68 162.62 372.48 C164.28 367.28 163.45 369.85 165.11 364.37 C166.78 358.89 165.94 361.54 167.61 356.04 C169.27 350.54 168.44 353.14 170.10 347.86 C171.76 342.59 170.93 345.02 172.60 340.21 C174.26 335.41 173.43 337.60 175.09 333.44 C176.75 329.29 175.92 331.13 177.58 327.75 C179.25 324.37 178.42 325.79 180.08 323.31 C181.74 320.83 180.91 321.81 182.57 320.30 C184.24 318.78 183.41 319.43 185.07 318.76 C186.73 318.09 185.90 318.42 187.56 318.29 C189.23 318.17 188.39 318.31 190.06 318.39 C191.72 318.47 190.89 318.59 192.55 318.54 C194.21 318.48 193.38 318.72 195.05 318.23 C196.71 317.74 195.88 318.11 197.54 317.07 C199.20 316.04 198.37 316.64 200.04 315.12 C201.70 313.61 200.87 314.42 202.53 312.53 C204.19 310.64 203.36 311.62 205.02 309.46 C206.69 307.30 205.86 308.38 207.52 306.05 C209.18 303.73 208.35 304.87 210.01 302.48 C211.68 300.09 210.85 301.24 212.51 298.89 C214.17 296.54 213.34 297.64 215.00 295.43 C216.67 293.22 215.83 294.23 217.50 292.26 C219.16 290.28 218.33 291.15 219.99 289.51 C221.65 287.88 220.82 288.55 222.49 287.35 C224.15 286.15 223.32 286.62 224.98 285.92 C226.64 285.22 225.81 285.57 227.48 285.25 C229.14 284.92 228.31 285.20 229.97 284.94 C231.63 284.68 230.80 285.01 232.46 284.47 C234.13 283.92 233.30 284.48 234.96 283.30 C236.62 282.12 235.79 283.08 237.45 280.92 C239.12 278.76 238.29 280.10 239.95 276.83 C241.61 273.56 240.78 275.22 242.44 271.11 C244.11 267.00 243.27 268.96 244.94 264.50 C246.60 260.05 245.77 262.05 247.43 257.75 C249.09 253.46 248.26 255.28 249.93 251.62 C251.59 247.96 250.76 249.46 252.42 246.77 C254.08 244.08 253.25 245.08 254.92 243.55 C256.58 242.02 255.75 242.40 257.41 242.19 C259.07 241.97 258.24 241.82 259.90 242.90 C261.57 243.99 260.74 243.35 262.40 245.45 C264.06 247.55 263.23 246.52 264.89 249.21 C266.56 251.90 265.72 250.66 267.39 253.53 C269.05 256.40 268.22 255.09 269.88 257.82 C271.55 260.54 270.71 259.35 272.38 261.70 C274.04 264.04 273.21 263.10 274.87 264.85 C276.53 266.60 275.70 266.00 277.37 266.94 C279.03 267.89 278.20 267.60 279.86 267.69 C281.52 267.77 280.69 267.73 282.36 267.19 C284.02 266.65 283.19 266.81 284.85 266.07 C286.51 265.34 285.68 265.49 287.34 264.97 C289.01 264.46 288.18 264.40 289.84 264.53 C291.50 264.67 290.67 264.31 292.33 265.38 C294.00 266.46 293.16 265.73 294.83 267.77 C296.49 269.80 295.66 268.64 297.32 271.48 C298.99 274.33 298.15 272.80 299.82 276.30 C301.48 279.81 300.65 278.02 302.31 281.99 C303.97 285.97 303.14 284.03 304.81 288.24 C306.47 292.45 305.64 290.46 307.30 294.62 C308.96 298.77 308.13 296.88 309.80 300.70 C311.46 304.51 310.63 302.84 312.29 306.05 C313.95 309.27 313.12 307.79 314.78 310.35 C316.45 312.91 315.62 311.68 317.28 313.72 C318.94 315.76 318.11 314.75 319.77 316.46 C321.44 318.18 320.60 317.28 322.27 318.86 C323.93 320.44 323.10 319.56 324.76 321.21 C326.43 322.85 325.59 321.90 327.26 323.79 C328.92 325.68 328.09 324.63 329.75 326.87 C331.41 329.10 330.58 327.89 332.25 330.49 C333.91 333.08 333.08 331.70 334.74 334.65 C336.40 337.60 335.57 336.04 337.23 339.34 C338.90 342.64 338.07 340.92 339.73 344.55 C341.39 348.17 340.56 346.37 342.22 350.22 C343.89 354.08 343.06 352.22 344.72 356.12 C346.38 360.02 345.55 358.20 347.21 361.92 C348.88 365.65 348.04 363.96 349.71 367.30 C351.37 370.63 350.54 369.17 352.20 371.93 C353.87 374.68 353.03 373.42 354.70 375.56 C356.36 377.71 355.53 376.67 357.19 378.36 C358.85 380.05 358.02 379.19 359.69 380.63 C361.35 382.06 360.52 381.28 362.18 382.67 C363.84 384.06 363.01 383.25 364.67 384.79 C366.34 386.33 365.51 385.41 367.17 387.29 C368.83 389.18 368.00 388.12 369.66 390.44 C371.33 392.77 370.50 391.52 372.16 394.26 C373.82 396.99 372.99 395.55 374.65 398.65 C376.32 401.74 375.48 400.14 377.15 403.54 C378.81 406.94 377.98 405.20 379.64 408.85 C381.31 412.49 380.47 410.66 382.14 414.48 C383.80 418.30 382.97 416.42 384.63 420.31 C386.29 424.19 385.46 422.30 387.13 426.15 C388.79 430.00 387.96 428.15 389.62 431.85 C391.28 435.54 390.45 433.80 392.11 437.24 C393.78 440.67 392.95 439.08 394.61 442.15 C396.27 445.22 395.44 443.79 397.10 446.45 C398.77 449.11 397.94 447.87 399.60 450.13 C401.26 452.39 400.43 451.34 402.09 453.24 C403.76 455.15 402.92 454.26 404.59 455.84 C406.25 457.42 405.42 456.69 407.08 457.98 C408.74 459.27 407.91 458.67 409.58 459.71 C411.24 460.74 410.41 460.27 412.07 461.08 C413.73 461.90 412.90 461.53 414.57 462.14 C416.23 462.76 415.40 462.49 417.06 462.93 C418.72 463.37 417.89 463.18 419.55 463.47 C421.22 463.76 420.39 463.64 422.05 463.81 C423.71 463.98 422.88 463.91 424.54 463.98 C426.21 464.05 425.38 464.02 427.04 464.02 C428.70 464.02 427.87 464.02 429.53 463.97 C431.20 463.91 430.36 463.94 432.03 463.86 C433.69 463.78 432.86 463.81 434.52 463.73 C436.18 463.65 435.35 463.68 437.02 463.62 C438.68 463.57 437.85 463.57 439.51 463.57 C441.17 463.56 440.34 463.53 442.01 463.60 C443.67 463.67 443.67 463.71 444.50 463.76 L444.50 482.50" fill="none" stroke="#555" stroke-width="1.2" stroke-linejoin="round"/>
<path d="M67.50 482.50 C68.33 482.39 68.33 482.40 70.00 482.16 C71.66 481.92 70.83 482.04 72.49 481.78 C74.16 481.51 73.33 481.65 74.99 481.37 C76.65 481.09 75.82 481.23 77.49 480.94 C79.15 480.65 78.32 480.80 79.98 480.50 C81.65 480.21 80.82 480.36 82.48 480.06 C84.14 479.76 83.31 479.91 84.98 479.61 C86.64 479.32 85.81 479.46 87.47 479.17 C89.14 478.88 88.31 479.02 89.97 478.73 C91.63 478.45 90.80 478.59 92.47 478.31 C94.13 478.04 93.30 478.17 94.96 477.91 C96.63 477.65 95.80 477.77 97.46 477.53 C99.12 477.29 98.29 477.41 99.96 477.18 C101.62 476.96 100.79 477.07 102.45 476.87 C104.12 476.68 103.29 476.76 104.95 476.60 C106.61 476.43 105.78 476.50 107.45 476.37 C109.11 476.23 108.28 476.29 109.94 476.19 C111.61 476.09 110.78 476.13 112.44 476.07 C114.10 476.00 113.27 476.03 114.94 475.99 C116.60 475.95 115.77 475.96 117.43 475.94 C119.10 475.92 118.27 475.93 119.93 475.93 C121.59 475.92 120.76 475.92 122.43 475.92 C124.09 475.92 123.26 475.93 124.92 475.93 C126.59 475.93 125.76 475.93 127.42 475.92 C129.08 475.92 128.25 475.93 129.92 475.91 C131.58 475.89 130.75 475.90 132.41 475.86 C134.08 475.82 133.25 475.85 134.91 475.79 C136.58 475.72 135.74 475.76 137.41 475.66 C139.07 475.56 138.24 475.62 139.90 475.48 C141.57 475.34 140.74 475.43 142.40 475.24 C144.07 475.05 143.23 475.16 144.90 474.92 C146.56 474.68 145.73 474.81 147.39 474.51 C149.06 474.21 148.23 474.38 149.89 474.01 C151.56 473.64 150.72 473.84 152.39 473.40 C154.05 472.95 153.22 473.20 154.88 472.67 C156.55 472.15 155.72 472.42 157.38 471.83 C159.05 471.23 158.21 471.53 159.88 470.88 C161.54 470.23 160.71 470.56 162.37 469.87 C164.04 469.18 163.21 469.52 164.87 468.81 C166.54 468.10 165.70 468.45 167.37 467.74 C169.03 467.04 168.20 467.38 169.86 466.70 C171.53 466.01 170.70 466.34 172.36 465.70 C174.03 465.05 173.19 465.36 174.86 464.77 C176.52 464.19 175.69 464.47 177.35 463.95 C179.02 463.42 178.19 463.69 179.85 463.19 C181.52 462.69 180.68 462.95 182.35 462.46 C184.01 461.96 183.18 462.23 184.84 461.71 C186.51 461.19 185.68 461.47 187.34 460.90 C189.01 460.33 188.17 460.64 189.84 459.99 C191.50 459.33 190.67 459.70 192.33 458.93 C194.00 458.17 193.17 458.59 194.83 457.69 C196.50 456.79 195.66 457.26 197.33 456.24 C198.99 455.22 198.16 455.73 199.82 454.63 C201.49 453.52 200.66 454.06 202.32 452.93 C203.99 451.81 203.15 452.34 204.82 451.24 C206.48 450.14 205.65 450.66 207.31 449.63 C208.98 448.61 208.15 449.09 209.81 448.16 C211.48 447.23 210.64 447.68 212.31 446.84 C213.97 446.00 213.14 446.41 214.80 445.63 C216.47 444.86 215.64 445.24 217.30 444.52 C218.97 443.80 218.13 444.16 219.80 443.48 C221.46 442.80 220.63 443.14 222.29 442.49 C223.96 441.83 223.13 442.16 224.79 441.52 C226.46 440.87 225.62 441.20 227.29 440.54 C228.95 439.89 228.12 440.23 229.78 439.55 C231.45 438.87 230.62 439.22 232.28 438.50 C233.95 437.78 233.11 438.16 234.78 437.38 C236.44 436.61 235.61 437.02 237.27 436.17 C238.94 435.32 238.11 435.77 239.77 434.83 C241.44 433.88 240.60 434.39 242.27 433.33 C243.93 432.27 243.10 432.84 244.76 431.64 C246.43 430.44 245.60 431.09 247.26 429.74 C248.93 428.38 248.09 429.11 249.76 427.58 C251.42 426.05 250.59 426.87 252.25 425.14 C253.92 423.42 253.09 424.34 254.75 422.40 C256.42 420.45 255.58 421.49 257.25 419.31 C258.91 417.12 258.08 418.29 259.75 415.84 C261.41 413.40 260.58 414.70 262.24 411.98 C263.91 409.25 263.07 410.70 264.74 407.68 C266.40 404.65 265.57 406.25 267.24 402.91 C268.90 399.57 268.07 401.33 269.73 397.65 C271.40 393.97 270.56 395.88 272.23 391.87 C273.89 387.86 273.06 389.92 274.73 385.63 C276.39 381.33 275.56 383.52 277.22 378.99 C278.89 374.46 278.05 376.76 279.72 372.03 C281.38 367.30 280.55 369.70 282.22 364.81 C283.88 359.92 283.05 362.40 284.71 357.35 C286.38 352.30 285.54 354.86 287.21 349.65 C288.87 344.44 288.04 347.08 289.71 341.71 C291.37 336.34 290.54 339.07 292.20 333.54 C293.87 328.01 293.03 330.83 294.70 325.13 C296.36 319.43 295.53 322.34 297.20 316.45 C298.86 310.56 298.03 313.57 299.69 307.45 C301.36 301.33 300.52 304.47 302.19 298.09 C303.85 291.72 303.02 295.01 304.69 288.33 C306.35 281.65 305.52 285.22 307.18 278.06 C308.85 270.90 308.01 274.82 309.68 266.84 C311.34 258.86 310.51 263.29 312.18 254.12 C313.84 244.95 313.01 249.82 314.67 239.34 C316.34 228.86 315.50 234.02 317.17 222.68 C318.83 211.34 318.00 216.70 319.67 205.32 C321.33 193.95 320.50 199.12 322.16 188.54 C323.83 177.97 322.99 182.58 324.66 173.60 C326.32 164.63 325.49 168.55 327.16 161.62 C328.82 154.70 327.99 157.67 329.65 152.82 C331.32 147.98 330.48 149.93 332.15 147.09 C333.81 144.25 332.98 145.22 334.65 144.31 C336.31 143.41 335.48 143.43 337.14 144.37 C338.81 145.32 337.97 144.61 339.64 147.15 C341.30 149.70 340.47 148.55 342.14 152.00 C343.80 155.45 342.97 154.11 344.63 157.49 C346.30 160.88 345.46 159.75 347.13 162.15 C348.79 164.56 347.96 163.72 349.63 164.70 C351.29 165.68 350.46 165.40 352.12 165.10 C353.79 164.80 352.95 165.08 354.62 163.80 C356.28 162.51 355.45 163.17 357.12 161.24 C358.78 159.31 357.95 160.14 359.61 158.00 C361.28 155.87 360.44 156.67 362.11 154.84 C363.77 153.00 362.94 153.54 364.61 152.50 C366.27 151.45 365.44 151.59 367.10 151.70 C368.77 151.81 367.93 151.35 369.60 152.83 C371.26 154.30 370.43 153.24 372.10 156.13 C373.76 159.02 372.93 157.45 374.59 161.50 C376.26 165.55 375.42 163.52 377.09 168.29 C378.75 173.05 377.92 170.78 379.59 175.80 C381.25 180.81 380.42 178.53 382.08 183.33 C383.75 188.13 382.92 186.05 384.58 190.20 C386.24 194.34 385.41 192.53 387.08 195.77 C388.74 199.02 387.91 197.60 389.57 199.93 C391.24 202.26 390.41 201.29 392.07 202.76 C393.73 204.24 392.90 203.64 394.57 204.35 C396.23 205.05 395.40 204.59 397.06 204.88 C398.73 205.16 397.90 204.67 399.56 205.21 C401.22 205.76 400.39 204.94 402.06 206.51 C403.72 208.08 402.89 206.73 404.55 209.92 C406.22 213.12 405.39 211.11 407.05 216.09 C408.71 221.08 407.88 218.22 409.55 224.88 C411.21 231.53 410.38 227.88 412.04 236.06 C413.71 244.24 412.88 239.86 414.54 249.42 C416.20 258.97 415.37 253.96 417.04 264.73 C418.70 275.50 417.87 270.04 419.53 281.74 C421.20 293.43 420.37 287.66 422.03 299.81 C423.69 311.96 422.86 306.09 424.53 318.18 C426.19 330.27 425.36 324.56 427.02 336.07 C428.69 347.58 427.86 342.29 429.52 352.72 C431.18 363.14 430.35 358.46 432.02 367.34 C433.68 376.21 432.85 372.00 434.51 379.33 C436.18 386.66 435.35 382.94 437.01 389.32 C438.67 395.69 437.84 392.33 439.51 398.45 C441.17 404.57 440.34 401.67 442.00 407.68 C443.67 413.69 443.67 413.54 444.50 416.47 L444.50 482.50" fill="none" stroke="#555" stroke-width="1.2" stroke-linejoin="round"/>
<path d="M562.50 482.50 L562.50 342.09 C563.34 341.11 563.34 340.86 565.01 339.16 C566.68 337.46 565.84 338.35 567.51 336.99 C569.18 335.64 568.35 336.43 570.02 335.10 C571.69 333.76 570.86 334.63 572.53 332.98 C574.20 331.33 573.36 332.39 575.03 330.14 C576.70 327.90 575.87 329.14 577.54 326.24 C579.21 323.34 578.37 324.84 580.05 321.44 C581.72 318.04 580.88 319.74 582.55 316.04 C584.22 312.34 583.39 314.14 585.06 310.35 C586.73 306.56 585.89 308.35 587.57 304.67 C589.24 300.98 588.40 302.68 590.07 299.29 C591.74 295.91 590.91 297.43 592.58 294.51 C594.25 291.59 593.41 292.85 595.08 290.54 C596.76 288.23 595.92 289.15 597.59 287.59 C599.26 286.03 598.43 286.54 600.10 285.86 C601.77 285.18 600.93 285.35 602.60 285.54 C604.28 285.73 603.44 285.61 605.11 286.44 C606.78 287.27 605.95 286.92 607.62 288.02 C609.29 289.12 608.45 288.73 610.12 289.74 C611.80 290.74 610.96 290.46 612.63 291.04 C614.30 291.62 613.47 291.50 615.14 291.49 C616.81 291.48 615.97 291.64 617.64 291.00 C619.31 290.36 618.48 290.84 620.15 289.57 C621.82 288.30 620.99 289.05 622.66 287.20 C624.33 285.34 623.49 286.22 625.16 284.00 C626.83 281.79 626.00 282.72 627.67 280.55 C629.34 278.39 628.51 279.18 630.18 277.51 C631.85 275.83 631.01 276.28 632.68 275.53 C634.35 274.78 633.52 274.76 635.19 275.26 C636.86 275.76 636.03 275.27 637.70 277.03 C639.37 278.78 638.53 277.74 640.20 280.52 C641.87 283.31 641.04 281.81 642.71 285.38 C644.38 288.95 643.54 287.12 645.22 291.24 C646.89 295.35 646.05 293.31 647.72 297.72 C649.39 302.14 648.56 300.01 650.23 304.48 C651.90 308.95 651.06 306.82 652.74 311.14 C654.41 315.46 653.57 313.42 655.24 317.44 C656.91 321.46 656.08 319.60 657.75 323.20 C659.42 326.80 658.58 325.19 660.25 328.24 C661.93 331.30 661.09 329.98 662.76 332.38 C664.43 334.78 663.60 333.73 665.27 335.44 C666.94 337.15 666.10 336.37 667.77 337.50 C669.45 338.63 668.61 338.10 670.28 338.82 C671.95 339.53 671.12 339.17 672.79 339.65 C674.46 340.13 673.62 339.84 675.29 340.25 C676.97 340.66 676.13 340.41 677.80 340.89 C679.47 341.36 678.64 341.19 680.31 341.67 C681.98 342.14 681.14 342.05 682.81 342.31 C684.48 342.57 683.65 342.64 685.32 342.45 C686.99 342.26 686.16 342.61 687.83 341.73 C689.50 340.86 688.66 341.49 690.33 339.83 C692.00 338.17 691.17 339.10 692.84 336.76 C694.51 334.43 693.68 335.65 695.35 332.82 C697.02 329.99 696.18 331.41 697.85 328.27 C699.52 325.14 698.69 326.66 700.36 323.42 C702.03 320.19 701.19 321.68 702.87 318.57 C704.54 315.46 703.70 316.82 705.37 314.10 C707.04 311.39 706.21 312.48 707.88 310.42 C709.55 308.35 708.71 309.11 710.39 307.90 C712.06 306.70 711.22 307.12 712.89 306.80 C714.56 306.49 713.73 306.51 715.40 306.97 C717.07 307.42 716.23 307.10 717.91 308.18 C719.58 309.26 718.74 308.71 720.41 310.20 C722.08 311.69 721.25 311.01 722.92 312.66 C724.59 314.30 723.75 313.61 725.42 315.14 C727.10 316.66 726.26 316.10 727.93 317.23 C729.60 318.36 728.77 318.03 730.44 318.53 C732.11 319.03 731.27 318.95 732.94 318.74 C734.62 318.53 733.78 318.69 735.45 317.89 C737.12 317.08 736.29 317.44 737.96 316.33 C739.63 315.21 738.79 315.64 740.46 314.55 C742.14 313.45 741.30 313.79 742.97 313.04 C744.64 312.28 743.81 312.38 745.48 312.29 C747.15 312.19 746.31 312.01 747.98 312.76 C749.65 313.50 748.82 312.95 750.49 314.53 C752.16 316.11 751.33 315.17 753.00 317.49 C754.67 319.81 753.83 318.52 755.50 321.49 C757.17 324.46 756.34 322.94 758.01 326.39 C759.68 329.84 758.85 328.16 760.52 331.84 C762.19 335.51 761.35 333.79 763.02 337.41 C764.69 341.03 763.86 339.41 765.53 342.68 C767.20 345.96 766.36 344.57 768.04 347.23 C769.71 349.90 768.87 348.72 770.54 350.68 C772.21 352.64 771.38 351.71 773.05 353.11 C774.72 354.51 773.88 353.80 775.56 354.88 C777.23 355.97 776.39 355.35 778.06 356.36 C779.73 357.36 778.90 356.73 780.57 357.89 C782.24 359.05 781.40 358.29 783.08 359.84 C784.75 361.39 783.91 360.48 785.58 362.54 C787.25 364.59 786.42 363.48 788.09 366.00 C789.76 368.53 788.92 367.21 790.59 370.11 C792.27 373.01 791.43 371.52 793.10 374.71 C794.77 377.90 793.94 376.29 795.61 379.68 C797.28 383.07 796.44 381.38 798.11 384.88 C799.79 388.38 798.95 386.66 800.62 390.17 C802.29 393.69 801.46 391.98 803.13 395.42 C804.80 398.86 803.96 397.22 805.63 400.49 C807.31 403.77 806.47 402.23 808.14 405.25 C809.81 408.27 808.98 406.88 810.65 409.56 C812.32 412.23 811.48 411.00 813.15 413.28 C814.82 415.55 813.99 414.46 815.66 416.39 C817.33 418.31 816.50 417.36 818.17 419.06 C819.84 420.76 819.00 419.88 820.67 421.50 C822.34 423.11 821.51 422.24 823.18 423.89 C824.85 425.55 824.02 424.63 825.69 426.45 C827.36 428.28 826.52 427.29 828.19 429.37 C829.86 431.45 829.03 430.43 830.70 432.69 C832.37 434.95 831.53 433.89 833.21 436.17 C834.88 438.45 834.04 437.38 835.71 439.53 C837.38 441.67 836.55 440.65 838.22 442.60 C839.89 444.55 839.05 443.62 840.73 445.38 C842.40 447.15 841.56 446.31 843.23 447.89 C844.90 449.47 844.07 448.72 845.74 450.12 C847.41 451.53 846.57 450.86 848.25 452.10 C849.92 453.34 849.08 452.76 850.75 453.84 C852.42 454.93 851.59 454.42 853.26 455.35 C854.93 456.29 854.09 455.85 855.76 456.65 C857.44 457.44 856.60 457.08 858.27 457.74 C859.94 458.41 859.11 458.10 860.78 458.64 C862.45 459.19 861.61 458.94 863.28 459.37 C864.96 459.80 864.12 459.61 865.79 459.93 C867.46 460.25 866.63 460.11 868.30 460.34 C869.97 460.57 869.13 460.47 870.80 460.61 C872.47 460.75 871.64 460.70 873.31 460.76 C874.98 460.81 874.15 460.80 875.82 460.79 C877.49 460.78 876.65 460.79 878.32 460.72 C879.99 460.64 879.16 460.69 880.83 460.56 C882.50 460.43 881.67 460.51 883.34 460.33 C885.01 460.16 884.17 460.25 885.84 460.04 C887.51 459.83 886.68 459.94 888.35 459.70 C890.02 459.46 889.19 459.58 890.86 459.32 C892.53 459.06 891.69 459.18 893.36 458.92 C895.03 458.66 894.20 458.75 895.87 458.55 C897.54 458.34 896.70 458.39 898.38 458.30 C900.05 458.22 899.21 458.18 900.88 458.29 C902.55 458.40 901.72 458.25 903.39 458.62 C905.06 458.99 904.22 458.72 905.90 459.39 C907.57 460.06 906.73 459.69 908.40 460.62 C910.07 461.55 909.24 461.08 910.91 462.18 C912.58 463.29 911.74 462.75 913.42 463.94 C915.09 465.13 914.25 464.57 915.92 465.76 C917.59 466.95 916.76 466.41 918.43 467.50 C920.10 468.60 919.26 468.11 920.93 469.04 C922.61 469.97 921.77 469.54 923.44 470.30 C925.11 471.06 924.28 470.71 925.95 471.32 C927.62 471.92 926.78 471.64 928.45 472.12 C930.13 472.59 929.29 472.37 930.96 472.73 C932.63 473.10 931.80 472.93 933.47 473.20 C935.14 473.48 934.30 473.35 935.97 473.56 C937.64 473.77 936.81 473.67 938.48 473.83 C940.15 474.00 939.32 473.91 940.99 474.06 C942.66 474.21 941.82 474.13 943.49 474.27 C945.16 474.42 945.16 474.43 946.00 474.50 L946.00 482.50 Z" fill="#c9d0d7"/>
<path d="M618.00 482.50 L618.00 482.50 C618.83 482.50 618.83 482.50 620.50 482.50 C622.16 482.50 621.33 482.50 622.99 482.50 C624.66 482.50 623.82 482.50 625.49 482.50 C627.15 482.50 626.32 482.61 627.98 482.50 C629.65 482.39 628.82 482.43 630.48 482.16 C632.15 481.88 631.31 482.03 632.98 481.67 C634.64 481.31 633.81 481.51 635.47 481.07 C637.14 480.63 636.31 480.87 637.97 480.36 C639.63 479.84 638.80 480.12 640.47 479.53 C642.13 478.94 641.30 479.25 642.96 478.59 C644.63 477.92 643.79 478.27 645.46 477.53 C647.12 476.79 646.29 477.18 647.95 476.36 C649.62 475.54 648.79 475.97 650.45 475.08 C652.12 474.19 651.28 474.65 652.95 473.68 C654.61 472.72 653.78 473.21 655.44 472.19 C657.11 471.17 656.28 471.68 657.94 470.63 C659.60 469.58 658.77 470.09 660.44 469.04 C662.10 467.98 661.27 468.50 662.93 467.46 C664.60 466.42 663.76 466.92 665.43 465.93 C667.09 464.94 666.26 465.41 667.92 464.49 C669.59 463.57 668.76 464.00 670.42 463.18 C672.09 462.36 671.25 462.73 672.92 462.03 C674.58 461.33 673.75 461.65 675.41 461.08 C677.08 460.52 676.25 460.82 677.91 460.33 C679.57 459.83 678.74 460.13 680.41 459.60 C682.07 459.06 681.24 459.41 682.90 458.73 C684.57 458.04 683.73 458.47 685.40 457.53 C687.06 456.59 686.23 457.11 687.89 455.91 C689.56 454.70 688.73 455.34 690.39 453.91 C692.06 452.48 691.22 453.21 692.89 451.62 C694.55 450.02 693.72 450.83 695.38 449.12 C697.05 447.41 696.22 448.26 697.88 446.49 C699.54 444.72 698.71 445.59 700.38 443.82 C702.04 442.05 701.21 442.90 702.87 441.18 C704.54 439.46 703.70 440.29 705.37 438.66 C707.03 437.03 706.20 437.87 707.86 436.29 C709.53 434.71 708.70 435.55 710.36 433.93 C712.03 432.32 711.19 433.20 712.86 431.45 C714.52 429.70 713.69 430.66 715.35 428.68 C717.02 426.71 716.19 427.77 717.85 425.53 C719.51 423.29 718.68 424.48 720.35 421.96 C722.01 419.45 721.18 420.77 722.84 417.98 C724.51 415.19 723.67 416.66 725.34 413.59 C727.00 410.52 726.17 412.13 727.83 408.78 C729.50 405.43 728.67 407.17 730.33 403.54 C731.99 399.91 731.16 401.80 732.83 397.88 C734.49 393.97 733.66 395.97 735.32 391.79 C736.99 387.62 736.16 389.67 737.82 385.35 C739.48 381.03 738.65 383.10 740.32 378.84 C741.98 374.57 741.15 376.56 742.81 372.56 C744.48 368.56 743.64 370.37 745.31 366.84 C746.97 363.32 746.14 364.84 747.80 361.99 C749.47 359.15 748.64 360.39 750.30 358.31 C751.96 356.22 751.13 357.18 752.80 355.73 C754.46 354.29 753.63 354.97 755.29 353.97 C756.96 352.97 756.13 353.49 757.79 352.73 C759.45 351.98 758.62 352.42 760.29 351.71 C761.95 350.99 761.12 351.46 762.78 350.59 C764.45 349.73 763.61 350.32 765.28 349.10 C766.94 347.87 766.11 348.69 767.77 346.92 C769.44 345.14 768.61 346.16 770.27 343.77 C771.93 341.38 771.10 342.60 772.77 339.75 C774.43 336.89 773.60 338.28 775.26 335.19 C776.93 332.10 776.10 333.56 777.76 330.47 C779.42 327.39 778.59 328.78 780.26 325.94 C781.92 323.11 781.09 324.31 782.75 321.96 C784.42 319.61 783.58 320.53 785.25 318.89 C786.91 317.26 786.08 317.89 787.74 317.06 C789.41 316.23 788.58 316.57 790.24 316.41 C791.90 316.25 791.07 316.32 792.74 316.57 C794.40 316.82 793.57 316.75 795.23 317.17 C796.90 317.59 796.07 317.49 797.73 317.83 C799.39 318.17 798.56 318.18 800.23 318.19 C801.89 318.20 801.06 318.42 802.72 317.86 C804.39 317.29 803.55 317.75 805.22 316.49 C806.88 315.23 806.05 315.95 807.71 314.08 C809.38 312.22 808.55 313.19 810.21 310.90 C811.87 308.61 811.04 309.74 812.71 307.22 C814.37 304.69 813.54 305.89 815.20 303.31 C816.87 300.73 816.04 301.81 817.70 299.48 C819.36 297.15 818.53 297.93 820.20 296.31 C821.86 294.69 821.03 295.19 822.69 294.62 C824.36 294.05 823.52 294.15 825.19 294.61 C826.85 295.06 826.02 294.70 827.68 295.99 C829.35 297.27 828.52 296.55 830.18 298.45 C831.84 300.36 831.01 299.38 832.68 301.71 C834.34 304.05 833.51 302.90 835.17 305.46 C836.84 308.01 836.01 306.80 837.67 309.38 C839.33 311.97 838.50 310.79 840.17 313.20 C841.83 315.61 841.00 314.57 842.66 316.61 C844.33 318.65 843.49 317.84 845.16 319.32 C846.82 320.79 845.99 320.31 847.65 321.02 C849.32 321.74 848.49 321.52 850.15 321.46 C851.81 321.41 850.98 321.41 852.65 320.85 C854.31 320.29 853.48 320.47 855.14 319.78 C856.81 319.10 855.97 319.39 857.64 318.78 C859.30 318.18 858.47 318.44 860.14 317.98 C861.80 317.51 860.97 317.69 862.63 317.40 C864.30 317.11 863.46 317.20 865.13 317.11 C866.79 317.02 865.96 317.00 867.62 317.14 C869.29 317.28 868.46 317.20 870.12 317.54 C871.78 317.88 870.95 317.95 872.62 318.16 C874.28 318.38 873.45 318.68 875.11 318.19 C876.78 317.70 875.94 318.26 877.61 316.69 C879.27 315.11 878.44 316.04 880.11 313.47 C881.77 310.89 880.94 312.24 882.60 308.96 C884.27 305.69 883.43 307.31 885.10 303.65 C886.76 299.99 885.93 301.72 887.59 297.98 C889.26 294.25 888.43 295.94 890.09 292.44 C891.75 288.94 890.92 290.44 892.59 287.48 C894.25 284.53 893.42 285.72 895.08 283.58 C896.75 281.44 895.91 282.33 897.58 281.06 C899.24 279.79 898.41 280.30 900.08 279.78 C901.74 279.25 900.91 279.44 902.57 279.48 C904.24 279.53 903.40 279.47 905.07 279.92 C906.73 280.36 905.90 280.14 907.56 280.82 C909.23 281.49 908.40 281.21 910.06 281.94 C911.72 282.68 910.89 282.40 912.56 283.02 C914.22 283.65 913.39 283.47 915.05 283.81 C916.72 284.15 915.88 284.16 917.55 284.04 C919.21 283.92 918.38 284.20 920.05 283.45 C921.71 282.70 920.88 283.28 922.54 281.79 C924.21 280.30 923.37 281.00 925.04 278.99 C926.70 276.98 925.87 277.77 927.53 275.76 C929.20 273.75 928.37 274.54 930.03 272.96 C931.69 271.39 930.86 272.03 932.53 271.03 C934.19 270.03 933.36 270.39 935.02 269.97 C936.69 269.54 935.85 269.62 937.52 269.75 C939.18 269.89 938.35 269.72 940.02 270.38 C941.68 271.04 940.85 270.74 942.51 271.73 C944.18 272.72 943.34 272.37 945.01 273.35 C946.67 274.33 945.84 274.07 947.50 274.67 C949.17 275.27 949.17 274.99 950.00 275.14 L950.00 482.50 Z" fill="#e3e0db"/>
<path d="M618.00 482.50 L618.00 482.50 C618.83 482.50 618.83 482.50 620.50 482.50 C622.16 482.50 621.33 482.50 622.99 482.50 C624.66 482.50 623.82 482.50 625.49 482.50 C627.15 482.50 626.32 482.61 627.98 482.50 C629.65 482.39 628.82 482.43 630.48 482.16 C632.15 481.88 631.31 482.03 632.98 481.67 C634.64 481.31 633.81 481.51 635.47 481.07 C637.14 480.63 636.31 480.87 637.97 480.36 C639.63 479.84 638.80 480.12 640.47 479.53 C642.13 478.94 641.30 479.25 642.96 478.59 C644.63 477.92 643.79 478.27 645.46 477.53 C647.12 476.79 646.29 477.18 647.95 476.36 C649.62 475.54 648.79 475.97 650.45 475.08 C652.12 474.19 651.28 474.65 652.95 473.68 C654.61 472.72 653.78 473.21 655.44 472.19 C657.11 471.17 656.28 471.68 657.94 470.63 C659.60 469.58 658.77 470.09 660.44 469.04 C662.10 467.98 661.27 468.50 662.93 467.46 C664.60 466.42 663.76 466.92 665.43 465.93 C667.09 464.94 666.26 465.41 667.92 464.49 C669.59 463.57 668.76 464.00 670.42 463.18 C672.09 462.36 671.25 462.73 672.92 462.03 C674.58 461.33 673.75 461.65 675.41 461.08 C677.08 460.52 676.25 460.82 677.91 460.33 C679.57 459.83 678.74 460.13 680.41 459.60 C682.07 459.06 681.24 459.41 682.90 458.73 C684.57 458.04 683.73 458.47 685.40 457.53 C687.06 456.59 686.23 457.11 687.89 455.91 C689.56 454.70 688.73 455.34 690.39 453.91 C692.06 452.48 691.22 453.21 692.89 451.62 C694.55 450.02 693.72 450.83 695.38 449.12 C697.05 447.41 696.22 448.26 697.88 446.49 C699.54 444.72 698.71 445.59 700.38 443.82 C702.04 442.05 701.21 442.90 702.87 441.18 C704.54 439.46 703.70 440.29 705.37 438.66 C707.03 437.03 706.20 437.87 707.86 436.29 C709.53 434.71 708.70 435.55 710.36 433.93 C712.03 432.32 711.19 433.20 712.86 431.45 C714.52 429.70 713.69 430.66 715.35 428.68 C717.02 426.71 716.19 427.77 717.85 425.53 C719.51 423.29 718.68 424.48 720.35 421.96 C722.01 419.45 721.18 420.77 722.84 417.98 C724.51 415.19 723.67 416.66 725.34 413.59 C727.00 410.52 726.17 412.13 727.83 408.78 C729.50 405.43 728.67 407.17 730.33 403.54 C731.99 399.91 731.16 401.80 732.83 397.88 C734.49 393.97 733.66 395.97 735.32 391.79 C736.99 387.62 736.16 389.67 737.82 385.35 C739.48 381.03 738.65 383.10 740.32 378.84 C741.98 374.57 741.15 376.56 742.81 372.56 C744.48 368.56 743.64 370.37 745.31 366.84 C746.97 363.32 746.14 364.84 747.80 361.99 C749.47 359.15 748.64 360.39 750.30 358.31 C751.96 356.22 751.13 357.18 752.80 355.73 C754.46 354.29 753.63 354.97 755.29 353.97 C756.96 352.97 756.13 353.49 757.79 352.73 C759.45 351.98 758.62 352.42 760.29 351.71 C761.95 350.99 761.12 351.46 762.78 350.59 C764.45 349.73 763.61 350.32 765.28 349.10 C766.94 347.87 766.11 348.69 767.77 346.92 C769.44 345.14 768.61 346.16 770.27 343.77 C771.93 341.38 771.10 342.60 772.77 339.75 C774.43 336.89 773.60 338.28 775.26 335.19 C776.93 332.10 776.10 333.56 777.76 330.47 C779.42 327.39 778.59 328.78 780.26 325.94 C781.92 323.11 781.09 324.31 782.75 321.96 C784.42 319.61 783.58 320.53 785.25 318.89 C786.91 317.26 786.08 317.89 787.74 317.06 C789.41 316.23 788.58 316.57 790.24 316.41 C791.90 316.25 791.07 316.32 792.74 316.57 C794.40 316.82 793.57 316.75 795.23 317.17 C796.90 317.59 796.07 317.49 797.73 317.83 C799.39 318.17 798.56 318.18 800.23 318.19 C801.89 318.20 801.06 318.42 802.72 317.86 C804.39 317.29 803.55 317.75 805.22 316.49 C806.88 315.23 806.05 315.95 807.71 314.08 C809.38 312.22 808.55 313.19 810.21 310.90 C811.87 308.61 811.04 309.74 812.71 307.22 C814.37 304.69 813.54 305.89 815.20 303.31 C816.87 300.73 816.04 301.81 817.70 299.48 C819.36 297.15 818.53 297.93 820.20 296.31 C821.86 294.69 821.03 295.19 822.69 294.62 C824.36 294.05 823.52 294.15 825.19 294.61 C826.85 295.06 826.02 294.70 827.68 295.99 C829.35 297.27 828.52 296.55 830.18 298.45 C831.84 300.36 831.01 299.38 832.68 301.71 C834.34 304.05 833.51 302.90 835.17 305.46 C836.84 308.01 836.01 306.80 837.67 309.38 C839.33 311.97 838.50 310.79 840.17 313.20 C841.83 315.61 841.00 314.57 842.66 316.61 C844.33 318.65 843.49 317.84 845.16 319.32 C846.82 320.79 845.99 320.31 847.65 321.02 C849.32 321.74 848.49 321.52 850.15 321.46 C851.81 321.41 850.98 321.41 852.65 320.85 C854.31 320.29 853.48 320.47 855.14 319.78 C856.81 319.10 855.97 319.39 857.64 318.78 C859.30 318.18 858.47 318.44 860.14 317.98 C861.80 317.51 860.97 317.69 862.63 317.40 C864.30 317.11 863.46 317.20 865.13 317.11 C866.79 317.02 865.96 317.00 867.62 317.14 C869.29 317.28 868.46 317.20 870.12 317.54 C871.78 317.88 870.95 317.95 872.62 318.16 C874.28 318.38 873.45 318.68 875.11 318.19 C876.78 317.70 875.94 318.26 877.61 316.69 C879.27 315.11 878.44 316.04 880.11 313.47 C881.77 310.89 880.94 312.24 882.60 308.96 C884.27 305.69 883.43 307.31 885.10 303.65 C886.76 299.99 885.93 301.72 887.59 297.98 C889.26 294.25 888.43 295.94 890.09 292.44 C891.75 288.94 890.92 290.44 892.59 287.48 C894.25 284.53 893.42 285.72 895.08 283.58 C896.75 281.44 895.91 282.33 897.58 281.06 C899.24 279.79 898.41 280.30 900.08 279.78 C901.74 279.25 900.91 279.44 902.57 279.48 C904.24 279.53 903.40 279.47 905.07 279.92 C906.73 280.36 905.90 280.14 907.56 280.82 C909.23 281.49 908.40 281.21 910.06 281.94 C911.72 282.68 910.89 282.40 912.56 283.02 C914.22 283.65 913.39 283.47 915.05 283.81 C916.72 284.15 915.88 284.16 917.55 284.04 C919.21 283.92 918.38 284.20 920.05 283.45 C921.71 282.70 920.88 283.28 922.54 281.79 C924.21 280.30 923.37 281.00 925.04 278.99 C926.70 276.98 925.87 277.77 927.53 275.76 C929.20 273.75 928.37 274.54 930.03 272.96 C931.69 271.39 930.86 272.03 932.53 271.03 C934.19 270.03 933.36 270.39 935.02 269.97 C936.69 269.54 935.85 269.62 937.52 269.75 C939.18 269.89 938.35 269.72 940.02 270.38 C941.68 271.04 940.85 270.74 942.51 271.73 C944.18 272.72 943.34 272.37 945.01 273.35 C946.67 274.33 945.84 274.07 947.50 274.67 C949.17 275.27 949.17 274.99 950.00 275.14 L950.00 482.50 Z" fill="#bec0bf" clip-path="url(#cB)"/>
<path d="M562.50 482.50 L562.50 342.09 C563.34 341.11 563.34 340.86 565.01 339.16 C566.68 337.46 565.84 338.35 567.51 336.99 C569.18 335.64 568.35 336.43 570.02 335.10 C571.69 333.76 570.86 334.63 572.53 332.98 C574.20 331.33 573.36 332.39 575.03 330.14 C576.70 327.90 575.87 329.14 577.54 326.24 C579.21 323.34 578.37 324.84 580.05 321.44 C581.72 318.04 580.88 319.74 582.55 316.04 C584.22 312.34 583.39 314.14 585.06 310.35 C586.73 306.56 585.89 308.35 587.57 304.67 C589.24 300.98 588.40 302.68 590.07 299.29 C591.74 295.91 590.91 297.43 592.58 294.51 C594.25 291.59 593.41 292.85 595.08 290.54 C596.76 288.23 595.92 289.15 597.59 287.59 C599.26 286.03 598.43 286.54 600.10 285.86 C601.77 285.18 600.93 285.35 602.60 285.54 C604.28 285.73 603.44 285.61 605.11 286.44 C606.78 287.27 605.95 286.92 607.62 288.02 C609.29 289.12 608.45 288.73 610.12 289.74 C611.80 290.74 610.96 290.46 612.63 291.04 C614.30 291.62 613.47 291.50 615.14 291.49 C616.81 291.48 615.97 291.64 617.64 291.00 C619.31 290.36 618.48 290.84 620.15 289.57 C621.82 288.30 620.99 289.05 622.66 287.20 C624.33 285.34 623.49 286.22 625.16 284.00 C626.83 281.79 626.00 282.72 627.67 280.55 C629.34 278.39 628.51 279.18 630.18 277.51 C631.85 275.83 631.01 276.28 632.68 275.53 C634.35 274.78 633.52 274.76 635.19 275.26 C636.86 275.76 636.03 275.27 637.70 277.03 C639.37 278.78 638.53 277.74 640.20 280.52 C641.87 283.31 641.04 281.81 642.71 285.38 C644.38 288.95 643.54 287.12 645.22 291.24 C646.89 295.35 646.05 293.31 647.72 297.72 C649.39 302.14 648.56 300.01 650.23 304.48 C651.90 308.95 651.06 306.82 652.74 311.14 C654.41 315.46 653.57 313.42 655.24 317.44 C656.91 321.46 656.08 319.60 657.75 323.20 C659.42 326.80 658.58 325.19 660.25 328.24 C661.93 331.30 661.09 329.98 662.76 332.38 C664.43 334.78 663.60 333.73 665.27 335.44 C666.94 337.15 666.10 336.37 667.77 337.50 C669.45 338.63 668.61 338.10 670.28 338.82 C671.95 339.53 671.12 339.17 672.79 339.65 C674.46 340.13 673.62 339.84 675.29 340.25 C676.97 340.66 676.13 340.41 677.80 340.89 C679.47 341.36 678.64 341.19 680.31 341.67 C681.98 342.14 681.14 342.05 682.81 342.31 C684.48 342.57 683.65 342.64 685.32 342.45 C686.99 342.26 686.16 342.61 687.83 341.73 C689.50 340.86 688.66 341.49 690.33 339.83 C692.00 338.17 691.17 339.10 692.84 336.76 C694.51 334.43 693.68 335.65 695.35 332.82 C697.02 329.99 696.18 331.41 697.85 328.27 C699.52 325.14 698.69 326.66 700.36 323.42 C702.03 320.19 701.19 321.68 702.87 318.57 C704.54 315.46 703.70 316.82 705.37 314.10 C707.04 311.39 706.21 312.48 707.88 310.42 C709.55 308.35 708.71 309.11 710.39 307.90 C712.06 306.70 711.22 307.12 712.89 306.80 C714.56 306.49 713.73 306.51 715.40 306.97 C717.07 307.42 716.23 307.10 717.91 308.18 C719.58 309.26 718.74 308.71 720.41 310.20 C722.08 311.69 721.25 311.01 722.92 312.66 C724.59 314.30 723.75 313.61 725.42 315.14 C727.10 316.66 726.26 316.10 727.93 317.23 C729.60 318.36 728.77 318.03 730.44 318.53 C732.11 319.03 731.27 318.95 732.94 318.74 C734.62 318.53 733.78 318.69 735.45 317.89 C737.12 317.08 736.29 317.44 737.96 316.33 C739.63 315.21 738.79 315.64 740.46 314.55 C742.14 313.45 741.30 313.79 742.97 313.04 C744.64 312.28 743.81 312.38 745.48 312.29 C747.15 312.19 746.31 312.01 747.98 312.76 C749.65 313.50 748.82 312.95 750.49 314.53 C752.16 316.11 751.33 315.17 753.00 317.49 C754.67 319.81 753.83 318.52 755.50 321.49 C757.17 324.46 756.34 322.94 758.01 326.39 C759.68 329.84 758.85 328.16 760.52 331.84 C762.19 335.51 761.35 333.79 763.02 337.41 C764.69 341.03 763.86 339.41 765.53 342.68 C767.20 345.96 766.36 344.57 768.04 347.23 C769.71 349.90 768.87 348.72 770.54 350.68 C772.21 352.64 771.38 351.71 773.05 353.11 C774.72 354.51 773.88 353.80 775.56 354.88 C777.23 355.97 776.39 355.35 778.06 356.36 C779.73 357.36 778.90 356.73 780.57 357.89 C782.24 359.05 781.40 358.29 783.08 359.84 C784.75 361.39 783.91 360.48 785.58 362.54 C787.25 364.59 786.42 363.48 788.09 366.00 C789.76 368.53 788.92 367.21 790.59 370.11 C792.27 373.01 791.43 371.52 793.10 374.71 C794.77 377.90 793.94 376.29 795.61 379.68 C797.28 383.07 796.44 381.38 798.11 384.88 C799.79 388.38 798.95 386.66 800.62 390.17 C802.29 393.69 801.46 391.98 803.13 395.42 C804.80 398.86 803.96 397.22 805.63 400.49 C807.31 403.77 806.47 402.23 808.14 405.25 C809.81 408.27 808.98 406.88 810.65 409.56 C812.32 412.23 811.48 411.00 813.15 413.28 C814.82 415.55 813.99 414.46 815.66 416.39 C817.33 418.31 816.50 417.36 818.17 419.06 C819.84 420.76 819.00 419.88 820.67 421.50 C822.34 423.11 821.51 422.24 823.18 423.89 C824.85 425.55 824.02 424.63 825.69 426.45 C827.36 428.28 826.52 427.29 828.19 429.37 C829.86 431.45 829.03 430.43 830.70 432.69 C832.37 434.95 831.53 433.89 833.21 436.17 C834.88 438.45 834.04 437.38 835.71 439.53 C837.38 441.67 836.55 440.65 838.22 442.60 C839.89 444.55 839.05 443.62 840.73 445.38 C842.40 447.15 841.56 446.31 843.23 447.89 C844.90 449.47 844.07 448.72 845.74 450.12 C847.41 451.53 846.57 450.86 848.25 452.10 C849.92 453.34 849.08 452.76 850.75 453.84 C852.42 454.93 851.59 454.42 853.26 455.35 C854.93 456.29 854.09 455.85 855.76 456.65 C857.44 457.44 856.60 457.08 858.27 457.74 C859.94 458.41 859.11 458.10 860.78 458.64 C862.45 459.19 861.61 458.94 863.28 459.37 C864.96 459.80 864.12 459.61 865.79 459.93 C867.46 460.25 866.63 460.11 868.30 460.34 C869.97 460.57 869.13 460.47 870.80 460.61 C872.47 460.75 871.64 460.70 873.31 460.76 C874.98 460.81 874.15 460.80 875.82 460.79 C877.49 460.78 876.65 460.79 878.32 460.72 C879.99 460.64 879.16 460.69 880.83 460.56 C882.50 460.43 881.67 460.51 883.34 460.33 C885.01 460.16 884.17 460.25 885.84 460.04 C887.51 459.83 886.68 459.94 888.35 459.70 C890.02 459.46 889.19 459.58 890.86 459.32 C892.53 459.06 891.69 459.18 893.36 458.92 C895.03 458.66 894.20 458.75 895.87 458.55 C897.54 458.34 896.70 458.39 898.38 458.30 C900.05 458.22 899.21 458.18 900.88 458.29 C902.55 458.40 901.72 458.25 903.39 458.62 C905.06 458.99 904.22 458.72 905.90 459.39 C907.57 460.06 906.73 459.69 908.40 460.62 C910.07 461.55 909.24 461.08 910.91 462.18 C912.58 463.29 911.74 462.75 913.42 463.94 C915.09 465.13 914.25 464.57 915.92 465.76 C917.59 466.95 916.76 466.41 918.43 467.50 C920.10 468.60 919.26 468.11 920.93 469.04 C922.61 469.97 921.77 469.54 923.44 470.30 C925.11 471.06 924.28 470.71 925.95 471.32 C927.62 471.92 926.78 471.64 928.45 472.12 C930.13 472.59 929.29 472.37 930.96 472.73 C932.63 473.10 931.80 472.93 933.47 473.20 C935.14 473.48 934.30 473.35 935.97 473.56 C937.64 473.77 936.81 473.67 938.48 473.83 C940.15 474.00 939.32 473.91 940.99 474.06 C942.66 474.21 941.82 474.13 943.49 474.27 C945.16 474.42 945.16 474.43 946.00 474.50" fill="none" stroke="#555" stroke-width="1.2" stroke-linejoin="round"/>
<path d="M618.00 482.50 C618.83 482.50 618.83 482.50 620.50 482.50 C622.16 482.50 621.33 482.50 622.99 482.50 C624.66 482.50 623.82 482.50 625.49 482.50 C627.15 482.50 626.32 482.61 627.98 482.50 C629.65 482.39 628.82 482.43 630.48 482.16 C632.15 481.88 631.31 482.03 632.98 481.67 C634.64 481.31 633.81 481.51 635.47 481.07 C637.14 480.63 636.31 480.87 637.97 480.36 C639.63 479.84 638.80 480.12 640.47 479.53 C642.13 478.94 641.30 479.25 642.96 478.59 C644.63 477.92 643.79 478.27 645.46 477.53 C647.12 476.79 646.29 477.18 647.95 476.36 C649.62 475.54 648.79 475.97 650.45 475.08 C652.12 474.19 651.28 474.65 652.95 473.68 C654.61 472.72 653.78 473.21 655.44 472.19 C657.11 471.17 656.28 471.68 657.94 470.63 C659.60 469.58 658.77 470.09 660.44 469.04 C662.10 467.98 661.27 468.50 662.93 467.46 C664.60 466.42 663.76 466.92 665.43 465.93 C667.09 464.94 666.26 465.41 667.92 464.49 C669.59 463.57 668.76 464.00 670.42 463.18 C672.09 462.36 671.25 462.73 672.92 462.03 C674.58 461.33 673.75 461.65 675.41 461.08 C677.08 460.52 676.25 460.82 677.91 460.33 C679.57 459.83 678.74 460.13 680.41 459.60 C682.07 459.06 681.24 459.41 682.90 458.73 C684.57 458.04 683.73 458.47 685.40 457.53 C687.06 456.59 686.23 457.11 687.89 455.91 C689.56 454.70 688.73 455.34 690.39 453.91 C692.06 452.48 691.22 453.21 692.89 451.62 C694.55 450.02 693.72 450.83 695.38 449.12 C697.05 447.41 696.22 448.26 697.88 446.49 C699.54 444.72 698.71 445.59 700.38 443.82 C702.04 442.05 701.21 442.90 702.87 441.18 C704.54 439.46 703.70 440.29 705.37 438.66 C707.03 437.03 706.20 437.87 707.86 436.29 C709.53 434.71 708.70 435.55 710.36 433.93 C712.03 432.32 711.19 433.20 712.86 431.45 C714.52 429.70 713.69 430.66 715.35 428.68 C717.02 426.71 716.19 427.77 717.85 425.53 C719.51 423.29 718.68 424.48 720.35 421.96 C722.01 419.45 721.18 420.77 722.84 417.98 C724.51 415.19 723.67 416.66 725.34 413.59 C727.00 410.52 726.17 412.13 727.83 408.78 C729.50 405.43 728.67 407.17 730.33 403.54 C731.99 399.91 731.16 401.80 732.83 397.88 C734.49 393.97 733.66 395.97 735.32 391.79 C736.99 387.62 736.16 389.67 737.82 385.35 C739.48 381.03 738.65 383.10 740.32 378.84 C741.98 374.57 741.15 376.56 742.81 372.56 C744.48 368.56 743.64 370.37 745.31 366.84 C746.97 363.32 746.14 364.84 747.80 361.99 C749.47 359.15 748.64 360.39 750.30 358.31 C751.96 356.22 751.13 357.18 752.80 355.73 C754.46 354.29 753.63 354.97 755.29 353.97 C756.96 352.97 756.13 353.49 757.79 352.73 C759.45 351.98 758.62 352.42 760.29 351.71 C761.95 350.99 761.12 351.46 762.78 350.59 C764.45 349.73 763.61 350.32 765.28 349.10 C766.94 347.87 766.11 348.69 767.77 346.92 C769.44 345.14 768.61 346.16 770.27 343.77 C771.93 341.38 771.10 342.60 772.77 339.75 C774.43 336.89 773.60 338.28 775.26 335.19 C776.93 332.10 776.10 333.56 777.76 330.47 C779.42 327.39 778.59 328.78 780.26 325.94 C781.92 323.11 781.09 324.31 782.75 321.96 C784.42 319.61 783.58 320.53 785.25 318.89 C786.91 317.26 786.08 317.89 787.74 317.06 C789.41 316.23 788.58 316.57 790.24 316.41 C791.90 316.25 791.07 316.32 792.74 316.57 C794.40 316.82 793.57 316.75 795.23 317.17 C796.90 317.59 796.07 317.49 797.73 317.83 C799.39 318.17 798.56 318.18 800.23 318.19 C801.89 318.20 801.06 318.42 802.72 317.86 C804.39 317.29 803.55 317.75 805.22 316.49 C806.88 315.23 806.05 315.95 807.71 314.08 C809.38 312.22 808.55 313.19 810.21 310.90 C811.87 308.61 811.04 309.74 812.71 307.22 C814.37 304.69 813.54 305.89 815.20 303.31 C816.87 300.73 816.04 301.81 817.70 299.48 C819.36 297.15 818.53 297.93 820.20 296.31 C821.86 294.69 821.03 295.19 822.69 294.62 C824.36 294.05 823.52 294.15 825.19 294.61 C826.85 295.06 826.02 294.70 827.68 295.99 C829.35 297.27 828.52 296.55 830.18 298.45 C831.84 300.36 831.01 299.38 832.68 301.71 C834.34 304.05 833.51 302.90 835.17 305.46 C836.84 308.01 836.01 306.80 837.67 309.38 C839.33 311.97 838.50 310.79 840.17 313.20 C841.83 315.61 841.00 314.57 842.66 316.61 C844.33 318.65 843.49 317.84 845.16 319.32 C846.82 320.79 845.99 320.31 847.65 321.02 C849.32 321.74 848.49 321.52 850.15 321.46 C851.81 321.41 850.98 321.41 852.65 320.85 C854.31 320.29 853.48 320.47 855.14 319.78 C856.81 319.10 855.97 319.39 857.64 318.78 C859.30 318.18 858.47 318.44 860.14 317.98 C861.80 317.51 860.97 317.69 862.63 317.40 C864.30 317.11 863.46 317.20 865.13 317.11 C866.79 317.02 865.96 317.00 867.62 317.14 C869.29 317.28 868.46 317.20 870.12 317.54 C871.78 317.88 870.95 317.95 872.62 318.16 C874.28 318.38 873.45 318.68 875.11 318.19 C876.78 317.70 875.94 318.26 877.61 316.69 C879.27 315.11 878.44 316.04 880.11 313.47 C881.77 310.89 880.94 312.24 882.60 308.96 C884.27 305.69 883.43 307.31 885.10 303.65 C886.76 299.99 885.93 301.72 887.59 297.98 C889.26 294.25 888.43 295.94 890.09 292.44 C891.75 288.94 890.92 290.44 892.59 287.48 C894.25 284.53 893.42 285.72 895.08 283.58 C896.75 281.44 895.91 282.33 897.58 281.06 C899.24 279.79 898.41 280.30 900.08 279.78 C901.74 279.25 900.91 279.44 902.57 279.48 C904.24 279.53 903.40 279.47 905.07 279.92 C906.73 280.36 905.90 280.14 907.56 280.82 C909.23 281.49 908.40 281.21 910.06 281.94 C911.72 282.68 910.89 282.40 912.56 283.02 C914.22 283.65 913.39 283.47 915.05 283.81 C916.72 284.15 915.88 284.16 917.55 284.04 C919.21 283.92 918.38 284.20 920.05 283.45 C921.71 282.70 920.88 283.28 922.54 281.79 C924.21 280.30 923.37 281.00 925.04 278.99 C926.70 276.98 925.87 277.77 927.53 275.76 C929.20 273.75 928.37 274.54 930.03 272.96 C931.69 271.39 930.86 272.03 932.53 271.03 C934.19 270.03 933.36 270.39 935.02 269.97 C936.69 269.54 935.85 269.62 937.52 269.75 C939.18 269.89 938.35 269.72 940.02 270.38 C941.68 271.04 940.85 270.74 942.51 271.73 C944.18 272.72 943.34 272.37 945.01 273.35 C946.67 274.33 945.84 274.07 947.50 274.67 C949.17 275.27 949.17 274.99 950.00 275.14" fill="none" stroke="#555" stroke-width="1.2" stroke-linejoin="round"/>
<path d="M-5 482.7H444.5 M-6 482.7V487.3 M106.75 482.7V487.3 M219.5 482.7V487.3 M332.5 482.7V487.3 M444.5 482.7V487.3" stroke="#606060" stroke-width="1.1" fill="none"/>
<path d="M538.75 122.5V482.7H945 M562.5 482.7V487.3 M675 482.7V487.3 M787.5 482.7V487.3 M900 482.7V487.3" stroke="#606060" stroke-width="1.1" fill="none"/>
<text x="543.84" y="97.50" font-size="14.2" text-anchor="start" textLength="102.11" lengthAdjust="spacingAndGlyphs" fill="#332e22" stroke="#332e22" stroke-width="0.3">Empathy ratings</text>
<text x="308.02" y="131.30" font-size="13.6" text-anchor="start" textLength="45.16" lengthAdjust="spacingAndGlyphs" stroke="#333" stroke-width="0.3">Chatbot</text>
<text x="210.81" y="227.80" font-size="13.6" text-anchor="start" textLength="60.25" lengthAdjust="spacingAndGlyphs" stroke="#333" stroke-width="0.3">Physicians</text>
<text x="666.02" y="288.40" font-size="13.6" text-anchor="start" textLength="60.41" lengthAdjust="spacingAndGlyphs" stroke="#333" stroke-width="0.3">Physicians</text>
<text x="811.38" y="285.40" font-size="13.6" text-anchor="start" textLength="45.58" lengthAdjust="spacingAndGlyphs" stroke="#333" stroke-width="0.3">Chatbot</text>
<text x="92.88" y="502.30" font-size="13.2" text-anchor="start" textLength="26.90" lengthAdjust="spacingAndGlyphs" stroke="#333" stroke-width="0.3">Poor</text>
<text x="187.95" y="502.30" font-size="13.2" text-anchor="start" textLength="62.96" lengthAdjust="spacingAndGlyphs" stroke="#333" stroke-width="0.3">Acceptable</text>
<text x="316.89" y="502.30" font-size="13.2" text-anchor="start" textLength="31.04" lengthAdjust="spacingAndGlyphs" stroke="#333" stroke-width="0.3">Good</text>
<text x="431.63" y="502.30" font-size="13.2" text-anchor="start" textLength="25.95" lengthAdjust="spacingAndGlyphs" stroke="#333" stroke-width="0.3">Very</text>
<text x="430.20" y="518.30" font-size="13.2" text-anchor="start" textLength="29.69" lengthAdjust="spacingAndGlyphs" stroke="#333" stroke-width="0.3">good</text>
<text x="551.16" y="502.30" font-size="13.2" text-anchor="start" textLength="21.42" lengthAdjust="spacingAndGlyphs" stroke="#333" stroke-width="0.3">Not</text>
<text x="529.71" y="518.30" font-size="13.2" text-anchor="start" textLength="65.05" lengthAdjust="spacingAndGlyphs" stroke="#333" stroke-width="0.3">empathetic</text>
<text x="651.91" y="502.30" font-size="13.2" text-anchor="start" textLength="44.52" lengthAdjust="spacingAndGlyphs" stroke="#333" stroke-width="0.3">Slightly</text>
<text x="641.58" y="518.30" font-size="13.2" text-anchor="start" textLength="65.79" lengthAdjust="spacingAndGlyphs" stroke="#333" stroke-width="0.3">empathetic</text>
<text x="754.38" y="502.30" font-size="13.2" text-anchor="start" textLength="65.27" lengthAdjust="spacingAndGlyphs" stroke="#333" stroke-width="0.3">Moderately</text>
<text x="755.33" y="518.30" font-size="13.2" text-anchor="start" textLength="64.71" lengthAdjust="spacingAndGlyphs" stroke="#333" stroke-width="0.3">empathetic</text>
<text x="866.00" y="502.30" font-size="13.2" text-anchor="start" textLength="67.23" lengthAdjust="spacingAndGlyphs" stroke="#333" stroke-width="0.3">Empathetic</text>
<text x="164.67" y="541.90" font-size="15" text-anchor="start" textLength="58.10" lengthAdjust="spacingAndGlyphs" stroke="#333" stroke-width="0.3">Response</text>
<text x="227.22" y="541.90" font-size="15" text-anchor="start" textLength="46.64" lengthAdjust="spacingAndGlyphs" stroke="#333" stroke-width="0.3">options</text>
<text x="732.99" y="541.90" font-size="15" text-anchor="start" textLength="57.93" lengthAdjust="spacingAndGlyphs" stroke="#333" stroke-width="0.3">Response</text>
<text x="795.31" y="541.90" font-size="15" text-anchor="start" textLength="46.83" lengthAdjust="spacingAndGlyphs" stroke="#333" stroke-width="0.3">options</text>
<text transform="translate(528.1,300.9) rotate(-90)" font-size="15" text-anchor="middle" textLength="45.4" stroke="#333" stroke-width="0.3" lengthAdjust="spacingAndGlyphs">Density</text>
<text x="6.90" y="502.30" font-size="13.2" text-anchor="end" textLength="26.50" lengthAdjust="spacingAndGlyphs" stroke="#333" stroke-width="0.3">Very</text>
<text x="6.20" y="518.30" font-size="13.2" text-anchor="end" textLength="28.50" lengthAdjust="spacingAndGlyphs" stroke="#333" stroke-width="0.3">poor</text>
</svg>
</body></html>
